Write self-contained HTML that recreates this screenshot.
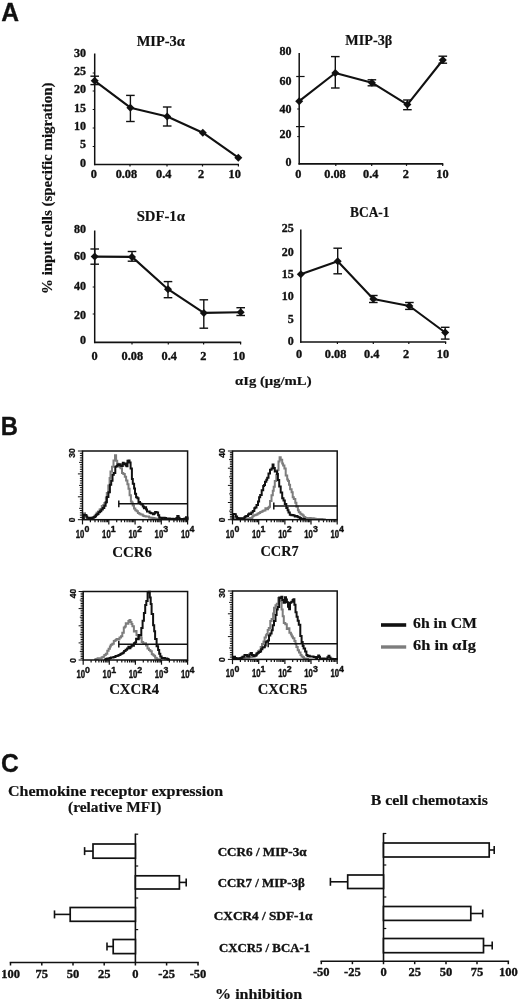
<!DOCTYPE html>
<html lang="en"><head><meta charset="utf-8"><title>Figure</title>
<style>
html,body{margin:0;padding:0;background:#fff}
body{width:520px;height:1001px;overflow:hidden}
svg{display:block}
</style></head><body>
<svg width="520" height="1001" viewBox="0 0 520 1001">
<rect width="520" height="1001" fill="#fff"/>
<text x="1.2" y="21.2" font-size="25.5" text-anchor="start" font-weight="bold" font-family='"Liberation Sans", "DejaVu Sans", sans-serif' fill="#111" textLength="17.8" lengthAdjust="spacingAndGlyphs" stroke="#111" stroke-width="0.3" stroke-linejoin="round" >A</text>
<text x="0.7" y="434.5" font-size="25" text-anchor="start" font-weight="bold" font-family='"Liberation Sans", "DejaVu Sans", sans-serif' fill="#111" textLength="17.2" lengthAdjust="spacingAndGlyphs" stroke="#111" stroke-width="0.3" stroke-linejoin="round" >B</text>
<text x="1.1" y="772.0" font-size="25" text-anchor="start" font-weight="bold" font-family='"Liberation Sans", "DejaVu Sans", sans-serif' fill="#111" textLength="17.8" lengthAdjust="spacingAndGlyphs" stroke="#111" stroke-width="0.3" stroke-linejoin="round" >C</text>
<line x1="94.7" y1="53.5" x2="94.7" y2="165.2" stroke="#111" stroke-width="1.5" stroke-linecap="butt"/>
<line x1="94.0" y1="164.5" x2="239.0" y2="164.5" stroke="#111" stroke-width="1.6" stroke-linecap="butt"/>
<text x="160.8" y="46.2" font-size="14" text-anchor="middle" font-weight="bold" font-family='"Liberation Serif", "DejaVu Serif", serif' fill="#111" textLength="48.3" lengthAdjust="spacingAndGlyphs" stroke="#111" stroke-width="0.18" stroke-linejoin="round" >MIP-3α</text>
<text x="85.9" y="56.6" font-size="12" text-anchor="end" font-weight="bold" font-family='"Liberation Serif", "DejaVu Serif", serif' fill="#111" stroke="#111" stroke-width="0.35" stroke-linejoin="round" >30</text>
<text x="85.9" y="74.8" font-size="12" text-anchor="end" font-weight="bold" font-family='"Liberation Serif", "DejaVu Serif", serif' fill="#111" stroke="#111" stroke-width="0.35" stroke-linejoin="round" >25</text>
<text x="85.9" y="93.1" font-size="12" text-anchor="end" font-weight="bold" font-family='"Liberation Serif", "DejaVu Serif", serif' fill="#111" stroke="#111" stroke-width="0.35" stroke-linejoin="round" >20</text>
<text x="85.9" y="111.5" font-size="12" text-anchor="end" font-weight="bold" font-family='"Liberation Serif", "DejaVu Serif", serif' fill="#111" stroke="#111" stroke-width="0.35" stroke-linejoin="round" >15</text>
<text x="85.9" y="129.8" font-size="12" text-anchor="end" font-weight="bold" font-family='"Liberation Serif", "DejaVu Serif", serif' fill="#111" stroke="#111" stroke-width="0.35" stroke-linejoin="round" >10</text>
<text x="85.9" y="148.0" font-size="12" text-anchor="end" font-weight="bold" font-family='"Liberation Serif", "DejaVu Serif", serif' fill="#111" stroke="#111" stroke-width="0.35" stroke-linejoin="round" >5</text>
<text x="85.9" y="166.7" font-size="12" text-anchor="end" font-weight="bold" font-family='"Liberation Serif", "DejaVu Serif", serif' fill="#111" stroke="#111" stroke-width="0.35" stroke-linejoin="round" >0</text>
<text x="93.8" y="178.0" font-size="12.3" text-anchor="middle" font-weight="bold" font-family='"Liberation Serif", "DejaVu Serif", serif' fill="#111" stroke="#111" stroke-width="0.35" stroke-linejoin="round" >0</text>
<text x="126.4" y="178.0" font-size="12.3" text-anchor="middle" font-weight="bold" font-family='"Liberation Serif", "DejaVu Serif", serif' fill="#111" stroke="#111" stroke-width="0.35" stroke-linejoin="round" >0.08</text>
<text x="163.7" y="178.0" font-size="12.3" text-anchor="middle" font-weight="bold" font-family='"Liberation Serif", "DejaVu Serif", serif' fill="#111" stroke="#111" stroke-width="0.35" stroke-linejoin="round" >0.4</text>
<text x="201.1" y="178.0" font-size="12.3" text-anchor="middle" font-weight="bold" font-family='"Liberation Serif", "DejaVu Serif", serif' fill="#111" stroke="#111" stroke-width="0.35" stroke-linejoin="round" >2</text>
<text x="234.7" y="178.0" font-size="12.3" text-anchor="middle" font-weight="bold" font-family='"Liberation Serif", "DejaVu Serif", serif' fill="#111" stroke="#111" stroke-width="0.35" stroke-linejoin="round" >10</text>
<line x1="130.0" y1="164.5" x2="130.0" y2="166.5" stroke="#111" stroke-width="1.2" stroke-linecap="butt"/>
<line x1="167.0" y1="164.5" x2="167.0" y2="166.5" stroke="#111" stroke-width="1.2" stroke-linecap="butt"/>
<line x1="202.5" y1="164.5" x2="202.5" y2="166.5" stroke="#111" stroke-width="1.2" stroke-linecap="butt"/>
<line x1="238.4" y1="164.5" x2="238.4" y2="166.5" stroke="#111" stroke-width="1.2" stroke-linecap="butt"/>
<line x1="92.7" y1="73.0" x2="94.7" y2="73.0" stroke="#111" stroke-width="1.0" stroke-linecap="butt"/>
<line x1="92.7" y1="91.0" x2="94.7" y2="91.0" stroke="#111" stroke-width="1.0" stroke-linecap="butt"/>
<line x1="92.7" y1="109.5" x2="94.7" y2="109.5" stroke="#111" stroke-width="1.0" stroke-linecap="butt"/>
<line x1="92.7" y1="128.0" x2="94.7" y2="128.0" stroke="#111" stroke-width="1.0" stroke-linecap="butt"/>
<line x1="92.7" y1="146.5" x2="94.7" y2="146.5" stroke="#111" stroke-width="1.0" stroke-linecap="butt"/>
<path d="M94.7 80.8L130.4 107.7L167.2 116.5L202.8 132.7L238.3 157.7" fill="none" stroke="#111" stroke-width="2.1" stroke-linejoin="round"/>
<line x1="94.7" y1="76.2" x2="94.7" y2="84.6" stroke="#111" stroke-width="1.4" stroke-linecap="butt"/>
<line x1="90.4" y1="76.2" x2="99.0" y2="76.2" stroke="#111" stroke-width="1.4" stroke-linecap="butt"/>
<line x1="90.4" y1="84.6" x2="99.0" y2="84.6" stroke="#111" stroke-width="1.4" stroke-linecap="butt"/>
<path d="M90.7 80.8L94.7 76.8L98.7 80.8L94.7 84.8Z" fill="#111"/>
<line x1="130.4" y1="95.4" x2="130.4" y2="121.5" stroke="#111" stroke-width="1.4" stroke-linecap="butt"/>
<line x1="126.1" y1="95.4" x2="134.7" y2="95.4" stroke="#111" stroke-width="1.4" stroke-linecap="butt"/>
<line x1="126.1" y1="121.5" x2="134.7" y2="121.5" stroke="#111" stroke-width="1.4" stroke-linecap="butt"/>
<path d="M126.4 107.7L130.4 103.7L134.4 107.7L130.4 111.7Z" fill="#111"/>
<line x1="167.2" y1="107.0" x2="167.2" y2="126.0" stroke="#111" stroke-width="1.4" stroke-linecap="butt"/>
<line x1="162.9" y1="107.0" x2="171.5" y2="107.0" stroke="#111" stroke-width="1.4" stroke-linecap="butt"/>
<line x1="162.9" y1="126.0" x2="171.5" y2="126.0" stroke="#111" stroke-width="1.4" stroke-linecap="butt"/>
<path d="M163.2 116.5L167.2 112.5L171.2 116.5L167.2 120.5Z" fill="#111"/>
<path d="M198.8 132.7L202.8 128.7L206.8 132.7L202.8 136.7Z" fill="#111"/>
<path d="M234.3 157.7L238.3 153.7L242.3 157.7L238.3 161.7Z" fill="#111"/>
<line x1="299.2" y1="53.0" x2="299.2" y2="164.6" stroke="#111" stroke-width="1.5" stroke-linecap="butt"/>
<line x1="298.5" y1="163.9" x2="443.3" y2="163.9" stroke="#111" stroke-width="1.6" stroke-linecap="butt"/>
<text x="368.8" y="45.4" font-size="14" text-anchor="middle" font-weight="bold" font-family='"Liberation Serif", "DejaVu Serif", serif' fill="#111" textLength="47.0" lengthAdjust="spacingAndGlyphs" stroke="#111" stroke-width="0.18" stroke-linejoin="round" >MIP-3β</text>
<text x="291.5" y="54.6" font-size="12" text-anchor="end" font-weight="bold" font-family='"Liberation Serif", "DejaVu Serif", serif' fill="#111" stroke="#111" stroke-width="0.35" stroke-linejoin="round" >80</text>
<text x="291.5" y="84.6" font-size="12" text-anchor="end" font-weight="bold" font-family='"Liberation Serif", "DejaVu Serif", serif' fill="#111" stroke="#111" stroke-width="0.35" stroke-linejoin="round" >60</text>
<text x="291.5" y="112.6" font-size="12" text-anchor="end" font-weight="bold" font-family='"Liberation Serif", "DejaVu Serif", serif' fill="#111" stroke="#111" stroke-width="0.35" stroke-linejoin="round" >40</text>
<text x="291.5" y="138.0" font-size="12" text-anchor="end" font-weight="bold" font-family='"Liberation Serif", "DejaVu Serif", serif' fill="#111" stroke="#111" stroke-width="0.35" stroke-linejoin="round" >20</text>
<text x="291.5" y="166.2" font-size="12" text-anchor="end" font-weight="bold" font-family='"Liberation Serif", "DejaVu Serif", serif' fill="#111" stroke="#111" stroke-width="0.35" stroke-linejoin="round" >0</text>
<text x="298.3" y="177.6" font-size="12.3" text-anchor="middle" font-weight="bold" font-family='"Liberation Serif", "DejaVu Serif", serif' fill="#111" stroke="#111" stroke-width="0.35" stroke-linejoin="round" >0</text>
<text x="335.0" y="177.6" font-size="12.3" text-anchor="middle" font-weight="bold" font-family='"Liberation Serif", "DejaVu Serif", serif' fill="#111" stroke="#111" stroke-width="0.35" stroke-linejoin="round" >0.08</text>
<text x="370.7" y="177.6" font-size="12.3" text-anchor="middle" font-weight="bold" font-family='"Liberation Serif", "DejaVu Serif", serif' fill="#111" stroke="#111" stroke-width="0.35" stroke-linejoin="round" >0.4</text>
<text x="405.8" y="177.6" font-size="12.3" text-anchor="middle" font-weight="bold" font-family='"Liberation Serif", "DejaVu Serif", serif' fill="#111" stroke="#111" stroke-width="0.35" stroke-linejoin="round" >2</text>
<text x="442.5" y="177.6" font-size="12.3" text-anchor="middle" font-weight="bold" font-family='"Liberation Serif", "DejaVu Serif", serif' fill="#111" stroke="#111" stroke-width="0.35" stroke-linejoin="round" >10</text>
<line x1="335.8" y1="163.9" x2="335.8" y2="165.9" stroke="#111" stroke-width="1.2" stroke-linecap="butt"/>
<line x1="371.7" y1="163.9" x2="371.7" y2="165.9" stroke="#111" stroke-width="1.2" stroke-linecap="butt"/>
<line x1="406.5" y1="163.9" x2="406.5" y2="165.9" stroke="#111" stroke-width="1.2" stroke-linecap="butt"/>
<line x1="442.7" y1="163.9" x2="442.7" y2="165.9" stroke="#111" stroke-width="1.2" stroke-linecap="butt"/>
<line x1="296.2" y1="76.5" x2="304.6" y2="76.5" stroke="#111" stroke-width="1.2" stroke-linecap="butt"/>
<line x1="296.0" y1="126.6" x2="304.6" y2="126.6" stroke="#111" stroke-width="1.2" stroke-linecap="butt"/>
<line x1="297.2" y1="109.0" x2="299.2" y2="109.0" stroke="#111" stroke-width="1.0" stroke-linecap="butt"/>
<line x1="297.2" y1="136.6" x2="299.2" y2="136.6" stroke="#111" stroke-width="1.0" stroke-linecap="butt"/>
<path d="M299.2 101.2L335.3 73.0L371.9 82.7L407.4 104.6L442.8 60.0" fill="none" stroke="#111" stroke-width="2.1" stroke-linejoin="round"/>
<path d="M295.2 101.2L299.2 97.2L303.2 101.2L299.2 105.2Z" fill="#111"/>
<line x1="335.3" y1="56.6" x2="335.3" y2="88.0" stroke="#111" stroke-width="1.4" stroke-linecap="butt"/>
<line x1="331.0" y1="56.6" x2="339.6" y2="56.6" stroke="#111" stroke-width="1.4" stroke-linecap="butt"/>
<line x1="331.0" y1="88.0" x2="339.6" y2="88.0" stroke="#111" stroke-width="1.4" stroke-linecap="butt"/>
<path d="M331.3 73.0L335.3 69.0L339.3 73.0L335.3 77.0Z" fill="#111"/>
<line x1="371.9" y1="79.8" x2="371.9" y2="85.8" stroke="#111" stroke-width="1.4" stroke-linecap="butt"/>
<line x1="367.6" y1="79.8" x2="376.2" y2="79.8" stroke="#111" stroke-width="1.4" stroke-linecap="butt"/>
<line x1="367.6" y1="85.8" x2="376.2" y2="85.8" stroke="#111" stroke-width="1.4" stroke-linecap="butt"/>
<path d="M367.9 82.7L371.9 78.7L375.9 82.7L371.9 86.7Z" fill="#111"/>
<line x1="407.4" y1="100.0" x2="407.4" y2="109.7" stroke="#111" stroke-width="1.4" stroke-linecap="butt"/>
<line x1="403.1" y1="100.0" x2="411.7" y2="100.0" stroke="#111" stroke-width="1.4" stroke-linecap="butt"/>
<line x1="403.1" y1="109.7" x2="411.7" y2="109.7" stroke="#111" stroke-width="1.4" stroke-linecap="butt"/>
<path d="M403.4 104.6L407.4 100.6L411.4 104.6L407.4 108.6Z" fill="#111"/>
<line x1="442.8" y1="56.2" x2="442.8" y2="63.2" stroke="#111" stroke-width="1.4" stroke-linecap="butt"/>
<line x1="438.5" y1="56.2" x2="447.1" y2="56.2" stroke="#111" stroke-width="1.4" stroke-linecap="butt"/>
<line x1="438.5" y1="63.2" x2="447.1" y2="63.2" stroke="#111" stroke-width="1.4" stroke-linecap="butt"/>
<path d="M438.8 60.0L442.8 56.0L446.8 60.0L442.8 64.0Z" fill="#111"/>
<line x1="94.7" y1="230.5" x2="94.7" y2="343.1" stroke="#111" stroke-width="1.5" stroke-linecap="butt"/>
<line x1="94.0" y1="342.4" x2="241.2" y2="342.4" stroke="#111" stroke-width="1.6" stroke-linecap="butt"/>
<text x="160.8" y="220.7" font-size="14" text-anchor="middle" font-weight="bold" font-family='"Liberation Serif", "DejaVu Serif", serif' fill="#111" textLength="48.3" lengthAdjust="spacingAndGlyphs" stroke="#111" stroke-width="0.18" stroke-linejoin="round" >SDF-1α</text>
<text x="85.9" y="232.8" font-size="12" text-anchor="end" font-weight="bold" font-family='"Liberation Serif", "DejaVu Serif", serif' fill="#111" stroke="#111" stroke-width="0.35" stroke-linejoin="round" >80</text>
<text x="85.9" y="260.3" font-size="12" text-anchor="end" font-weight="bold" font-family='"Liberation Serif", "DejaVu Serif", serif' fill="#111" stroke="#111" stroke-width="0.35" stroke-linejoin="round" >60</text>
<text x="85.9" y="290.0" font-size="12" text-anchor="end" font-weight="bold" font-family='"Liberation Serif", "DejaVu Serif", serif' fill="#111" stroke="#111" stroke-width="0.35" stroke-linejoin="round" >40</text>
<text x="85.9" y="318.5" font-size="12" text-anchor="end" font-weight="bold" font-family='"Liberation Serif", "DejaVu Serif", serif' fill="#111" stroke="#111" stroke-width="0.35" stroke-linejoin="round" >20</text>
<text x="85.9" y="343.5" font-size="12" text-anchor="end" font-weight="bold" font-family='"Liberation Serif", "DejaVu Serif", serif' fill="#111" stroke="#111" stroke-width="0.35" stroke-linejoin="round" >0</text>
<text x="94.7" y="360.0" font-size="12.3" text-anchor="middle" font-weight="bold" font-family='"Liberation Serif", "DejaVu Serif", serif' fill="#111" stroke="#111" stroke-width="0.35" stroke-linejoin="round" >0</text>
<text x="132.3" y="360.0" font-size="12.3" text-anchor="middle" font-weight="bold" font-family='"Liberation Serif", "DejaVu Serif", serif' fill="#111" stroke="#111" stroke-width="0.35" stroke-linejoin="round" >0.08</text>
<text x="169.2" y="360.0" font-size="12.3" text-anchor="middle" font-weight="bold" font-family='"Liberation Serif", "DejaVu Serif", serif' fill="#111" stroke="#111" stroke-width="0.35" stroke-linejoin="round" >0.4</text>
<text x="203.4" y="360.0" font-size="12.3" text-anchor="middle" font-weight="bold" font-family='"Liberation Serif", "DejaVu Serif", serif' fill="#111" stroke="#111" stroke-width="0.35" stroke-linejoin="round" >2</text>
<text x="238.9" y="360.0" font-size="12.3" text-anchor="middle" font-weight="bold" font-family='"Liberation Serif", "DejaVu Serif", serif' fill="#111" stroke="#111" stroke-width="0.35" stroke-linejoin="round" >10</text>
<line x1="132.0" y1="342.4" x2="132.0" y2="344.4" stroke="#111" stroke-width="1.2" stroke-linecap="butt"/>
<line x1="168.3" y1="342.4" x2="168.3" y2="344.4" stroke="#111" stroke-width="1.2" stroke-linecap="butt"/>
<line x1="203.6" y1="342.4" x2="203.6" y2="344.4" stroke="#111" stroke-width="1.2" stroke-linecap="butt"/>
<line x1="240.6" y1="342.4" x2="240.6" y2="344.4" stroke="#111" stroke-width="1.2" stroke-linecap="butt"/>
<line x1="92.7" y1="287.0" x2="94.7" y2="287.0" stroke="#111" stroke-width="1.0" stroke-linecap="butt"/>
<line x1="92.7" y1="314.0" x2="94.7" y2="314.0" stroke="#111" stroke-width="1.0" stroke-linecap="butt"/>
<path d="M94.7 256.6L132.0 256.9L168.0 289.2L203.8 312.9L240.7 312.3" fill="none" stroke="#111" stroke-width="2.1" stroke-linejoin="round"/>
<line x1="94.7" y1="249.0" x2="94.7" y2="264.2" stroke="#111" stroke-width="1.4" stroke-linecap="butt"/>
<line x1="90.4" y1="249.0" x2="99.0" y2="249.0" stroke="#111" stroke-width="1.4" stroke-linecap="butt"/>
<line x1="90.4" y1="264.2" x2="99.0" y2="264.2" stroke="#111" stroke-width="1.4" stroke-linecap="butt"/>
<path d="M90.7 256.6L94.7 252.6L98.7 256.6L94.7 260.6Z" fill="#111"/>
<line x1="132.0" y1="251.5" x2="132.0" y2="261.2" stroke="#111" stroke-width="1.4" stroke-linecap="butt"/>
<line x1="127.7" y1="251.5" x2="136.3" y2="251.5" stroke="#111" stroke-width="1.4" stroke-linecap="butt"/>
<line x1="127.7" y1="261.2" x2="136.3" y2="261.2" stroke="#111" stroke-width="1.4" stroke-linecap="butt"/>
<path d="M128.0 256.9L132.0 252.9L136.0 256.9L132.0 260.9Z" fill="#111"/>
<line x1="168.0" y1="281.6" x2="168.0" y2="297.7" stroke="#111" stroke-width="1.4" stroke-linecap="butt"/>
<line x1="163.7" y1="281.6" x2="172.3" y2="281.6" stroke="#111" stroke-width="1.4" stroke-linecap="butt"/>
<line x1="163.7" y1="297.7" x2="172.3" y2="297.7" stroke="#111" stroke-width="1.4" stroke-linecap="butt"/>
<path d="M164.0 289.2L168.0 285.2L172.0 289.2L168.0 293.2Z" fill="#111"/>
<line x1="203.8" y1="299.8" x2="203.8" y2="328.2" stroke="#111" stroke-width="1.4" stroke-linecap="butt"/>
<line x1="199.5" y1="299.8" x2="208.1" y2="299.8" stroke="#111" stroke-width="1.4" stroke-linecap="butt"/>
<line x1="199.5" y1="328.2" x2="208.1" y2="328.2" stroke="#111" stroke-width="1.4" stroke-linecap="butt"/>
<path d="M199.8 312.9L203.8 308.9L207.8 312.9L203.8 316.9Z" fill="#111"/>
<line x1="240.7" y1="307.7" x2="240.7" y2="315.5" stroke="#111" stroke-width="1.4" stroke-linecap="butt"/>
<line x1="236.4" y1="307.7" x2="245.0" y2="307.7" stroke="#111" stroke-width="1.4" stroke-linecap="butt"/>
<line x1="236.4" y1="315.5" x2="245.0" y2="315.5" stroke="#111" stroke-width="1.4" stroke-linecap="butt"/>
<path d="M236.7 312.3L240.7 308.3L244.7 312.3L240.7 316.3Z" fill="#111"/>
<line x1="300.8" y1="229.5" x2="300.8" y2="342.7" stroke="#111" stroke-width="1.5" stroke-linecap="butt"/>
<line x1="300.1" y1="342.0" x2="446.2" y2="342.0" stroke="#111" stroke-width="1.6" stroke-linecap="butt"/>
<text x="369.8" y="217.3" font-size="14" text-anchor="middle" font-weight="bold" font-family='"Liberation Serif", "DejaVu Serif", serif' fill="#111" textLength="39.5" lengthAdjust="spacingAndGlyphs" stroke="#111" stroke-width="0.18" stroke-linejoin="round" >BCA-1</text>
<text x="293.8" y="231.5" font-size="12" text-anchor="end" font-weight="bold" font-family='"Liberation Serif", "DejaVu Serif", serif' fill="#111" stroke="#111" stroke-width="0.35" stroke-linejoin="round" >25</text>
<text x="293.8" y="255.7" font-size="12" text-anchor="end" font-weight="bold" font-family='"Liberation Serif", "DejaVu Serif", serif' fill="#111" stroke="#111" stroke-width="0.35" stroke-linejoin="round" >20</text>
<text x="293.8" y="278.0" font-size="12" text-anchor="end" font-weight="bold" font-family='"Liberation Serif", "DejaVu Serif", serif' fill="#111" stroke="#111" stroke-width="0.35" stroke-linejoin="round" >15</text>
<text x="293.8" y="300.3" font-size="12" text-anchor="end" font-weight="bold" font-family='"Liberation Serif", "DejaVu Serif", serif' fill="#111" stroke="#111" stroke-width="0.35" stroke-linejoin="round" >10</text>
<text x="293.8" y="322.6" font-size="12" text-anchor="end" font-weight="bold" font-family='"Liberation Serif", "DejaVu Serif", serif' fill="#111" stroke="#111" stroke-width="0.35" stroke-linejoin="round" >5</text>
<text x="293.8" y="345.4" font-size="12" text-anchor="end" font-weight="bold" font-family='"Liberation Serif", "DejaVu Serif", serif' fill="#111" stroke="#111" stroke-width="0.35" stroke-linejoin="round" >0</text>
<text x="299.2" y="357.5" font-size="12.3" text-anchor="middle" font-weight="bold" font-family='"Liberation Serif", "DejaVu Serif", serif' fill="#111" stroke="#111" stroke-width="0.35" stroke-linejoin="round" >0</text>
<text x="335.6" y="357.5" font-size="12.3" text-anchor="middle" font-weight="bold" font-family='"Liberation Serif", "DejaVu Serif", serif' fill="#111" stroke="#111" stroke-width="0.35" stroke-linejoin="round" >0.08</text>
<text x="371.7" y="357.5" font-size="12.3" text-anchor="middle" font-weight="bold" font-family='"Liberation Serif", "DejaVu Serif", serif' fill="#111" stroke="#111" stroke-width="0.35" stroke-linejoin="round" >0.4</text>
<text x="406.2" y="357.5" font-size="12.3" text-anchor="middle" font-weight="bold" font-family='"Liberation Serif", "DejaVu Serif", serif' fill="#111" stroke="#111" stroke-width="0.35" stroke-linejoin="round" >2</text>
<text x="442.9" y="357.5" font-size="12.3" text-anchor="middle" font-weight="bold" font-family='"Liberation Serif", "DejaVu Serif", serif' fill="#111" stroke="#111" stroke-width="0.35" stroke-linejoin="round" >10</text>
<line x1="337.4" y1="342.0" x2="337.4" y2="344.0" stroke="#111" stroke-width="1.2" stroke-linecap="butt"/>
<line x1="373.3" y1="342.0" x2="373.3" y2="344.0" stroke="#111" stroke-width="1.2" stroke-linecap="butt"/>
<line x1="408.8" y1="342.0" x2="408.8" y2="344.0" stroke="#111" stroke-width="1.2" stroke-linecap="butt"/>
<line x1="445.6" y1="342.0" x2="445.6" y2="344.0" stroke="#111" stroke-width="1.2" stroke-linecap="butt"/>
<path d="M300.8 274.2L337.7 261.2L373.3 299.0L409.4 306.0L445.2 332.5" fill="none" stroke="#111" stroke-width="2.1" stroke-linejoin="round"/>
<path d="M296.8 274.2L300.8 270.2L304.8 274.2L300.8 278.2Z" fill="#111"/>
<line x1="337.7" y1="248.2" x2="337.7" y2="273.8" stroke="#111" stroke-width="1.4" stroke-linecap="butt"/>
<line x1="333.4" y1="248.2" x2="342.0" y2="248.2" stroke="#111" stroke-width="1.4" stroke-linecap="butt"/>
<line x1="333.4" y1="273.8" x2="342.0" y2="273.8" stroke="#111" stroke-width="1.4" stroke-linecap="butt"/>
<path d="M333.7 261.2L337.7 257.2L341.7 261.2L337.7 265.2Z" fill="#111"/>
<line x1="373.3" y1="295.5" x2="373.3" y2="302.5" stroke="#111" stroke-width="1.4" stroke-linecap="butt"/>
<line x1="369.0" y1="295.5" x2="377.6" y2="295.5" stroke="#111" stroke-width="1.4" stroke-linecap="butt"/>
<line x1="369.0" y1="302.5" x2="377.6" y2="302.5" stroke="#111" stroke-width="1.4" stroke-linecap="butt"/>
<path d="M369.3 299.0L373.3 295.0L377.3 299.0L373.3 303.0Z" fill="#111"/>
<line x1="409.4" y1="302.5" x2="409.4" y2="309.4" stroke="#111" stroke-width="1.4" stroke-linecap="butt"/>
<line x1="405.1" y1="302.5" x2="413.7" y2="302.5" stroke="#111" stroke-width="1.4" stroke-linecap="butt"/>
<line x1="405.1" y1="309.4" x2="413.7" y2="309.4" stroke="#111" stroke-width="1.4" stroke-linecap="butt"/>
<path d="M405.4 306.0L409.4 302.0L413.4 306.0L409.4 310.0Z" fill="#111"/>
<line x1="445.2" y1="327.3" x2="445.2" y2="339.1" stroke="#111" stroke-width="1.4" stroke-linecap="butt"/>
<line x1="440.9" y1="327.3" x2="449.5" y2="327.3" stroke="#111" stroke-width="1.4" stroke-linecap="butt"/>
<line x1="440.9" y1="339.1" x2="449.5" y2="339.1" stroke="#111" stroke-width="1.4" stroke-linecap="butt"/>
<path d="M441.2 332.5L445.2 328.5L449.2 332.5L445.2 336.5Z" fill="#111"/>
<text x="51.8" y="188.3" font-size="13.8" text-anchor="middle" font-weight="bold" font-family='"Liberation Serif", "DejaVu Serif", serif' fill="#111" textLength="211.5" lengthAdjust="spacingAndGlyphs" transform="rotate(-90 51.8 188.3)" stroke="#111" stroke-width="0.18" stroke-linejoin="round" >% input cells (specific migration)</text>
<text x="273.3" y="384.8" font-size="13" text-anchor="middle" font-weight="bold" font-family='"Liberation Serif", "DejaVu Serif", serif' fill="#111" textLength="76.5" lengthAdjust="spacingAndGlyphs" stroke="#111" stroke-width="0.18" stroke-linejoin="round" >αIg (μg/mL)</text>
<line x1="82.5" y1="519.7" x2="82.5" y2="524.4" stroke="#111" stroke-width="1.2" stroke-linecap="butt"/>
<line x1="90.4" y1="519.7" x2="90.4" y2="522.3" stroke="#111" stroke-width="1.2" stroke-linecap="butt"/>
<line x1="95.0" y1="519.7" x2="95.0" y2="522.3" stroke="#111" stroke-width="1.2" stroke-linecap="butt"/>
<line x1="98.3" y1="519.7" x2="98.3" y2="522.3" stroke="#111" stroke-width="1.2" stroke-linecap="butt"/>
<line x1="100.9" y1="519.7" x2="100.9" y2="522.3" stroke="#111" stroke-width="1.2" stroke-linecap="butt"/>
<line x1="102.9" y1="519.7" x2="102.9" y2="522.3" stroke="#111" stroke-width="1.2" stroke-linecap="butt"/>
<line x1="104.7" y1="519.7" x2="104.7" y2="522.3" stroke="#111" stroke-width="1.2" stroke-linecap="butt"/>
<line x1="106.2" y1="519.7" x2="106.2" y2="522.3" stroke="#111" stroke-width="1.2" stroke-linecap="butt"/>
<line x1="107.6" y1="519.7" x2="107.6" y2="522.3" stroke="#111" stroke-width="1.2" stroke-linecap="butt"/>
<line x1="108.8" y1="519.7" x2="108.8" y2="524.4" stroke="#111" stroke-width="1.2" stroke-linecap="butt"/>
<line x1="116.7" y1="519.7" x2="116.7" y2="522.3" stroke="#111" stroke-width="1.2" stroke-linecap="butt"/>
<line x1="121.3" y1="519.7" x2="121.3" y2="522.3" stroke="#111" stroke-width="1.2" stroke-linecap="butt"/>
<line x1="124.6" y1="519.7" x2="124.6" y2="522.3" stroke="#111" stroke-width="1.2" stroke-linecap="butt"/>
<line x1="127.1" y1="519.7" x2="127.1" y2="522.3" stroke="#111" stroke-width="1.2" stroke-linecap="butt"/>
<line x1="129.2" y1="519.7" x2="129.2" y2="522.3" stroke="#111" stroke-width="1.2" stroke-linecap="butt"/>
<line x1="131.0" y1="519.7" x2="131.0" y2="522.3" stroke="#111" stroke-width="1.2" stroke-linecap="butt"/>
<line x1="132.5" y1="519.7" x2="132.5" y2="522.3" stroke="#111" stroke-width="1.2" stroke-linecap="butt"/>
<line x1="133.8" y1="519.7" x2="133.8" y2="522.3" stroke="#111" stroke-width="1.2" stroke-linecap="butt"/>
<line x1="135.1" y1="519.7" x2="135.1" y2="524.4" stroke="#111" stroke-width="1.2" stroke-linecap="butt"/>
<line x1="143.0" y1="519.7" x2="143.0" y2="522.3" stroke="#111" stroke-width="1.2" stroke-linecap="butt"/>
<line x1="147.6" y1="519.7" x2="147.6" y2="522.3" stroke="#111" stroke-width="1.2" stroke-linecap="butt"/>
<line x1="150.9" y1="519.7" x2="150.9" y2="522.3" stroke="#111" stroke-width="1.2" stroke-linecap="butt"/>
<line x1="153.4" y1="519.7" x2="153.4" y2="522.3" stroke="#111" stroke-width="1.2" stroke-linecap="butt"/>
<line x1="155.5" y1="519.7" x2="155.5" y2="522.3" stroke="#111" stroke-width="1.2" stroke-linecap="butt"/>
<line x1="157.3" y1="519.7" x2="157.3" y2="522.3" stroke="#111" stroke-width="1.2" stroke-linecap="butt"/>
<line x1="158.8" y1="519.7" x2="158.8" y2="522.3" stroke="#111" stroke-width="1.2" stroke-linecap="butt"/>
<line x1="160.1" y1="519.7" x2="160.1" y2="522.3" stroke="#111" stroke-width="1.2" stroke-linecap="butt"/>
<line x1="161.3" y1="519.7" x2="161.3" y2="524.4" stroke="#111" stroke-width="1.2" stroke-linecap="butt"/>
<line x1="169.2" y1="519.7" x2="169.2" y2="522.3" stroke="#111" stroke-width="1.2" stroke-linecap="butt"/>
<line x1="173.9" y1="519.7" x2="173.9" y2="522.3" stroke="#111" stroke-width="1.2" stroke-linecap="butt"/>
<line x1="177.1" y1="519.7" x2="177.1" y2="522.3" stroke="#111" stroke-width="1.2" stroke-linecap="butt"/>
<line x1="179.7" y1="519.7" x2="179.7" y2="522.3" stroke="#111" stroke-width="1.2" stroke-linecap="butt"/>
<line x1="181.8" y1="519.7" x2="181.8" y2="522.3" stroke="#111" stroke-width="1.2" stroke-linecap="butt"/>
<line x1="183.5" y1="519.7" x2="183.5" y2="522.3" stroke="#111" stroke-width="1.2" stroke-linecap="butt"/>
<line x1="185.1" y1="519.7" x2="185.1" y2="522.3" stroke="#111" stroke-width="1.2" stroke-linecap="butt"/>
<line x1="186.4" y1="519.7" x2="186.4" y2="522.3" stroke="#111" stroke-width="1.2" stroke-linecap="butt"/>
<line x1="187.6" y1="519.7" x2="187.6" y2="524.4" stroke="#111" stroke-width="1.2" stroke-linecap="butt"/>
<line x1="77.9" y1="519.7" x2="82.5" y2="519.7" stroke="#111" stroke-width="1.0" stroke-linecap="butt"/>
<line x1="79.9" y1="517.4" x2="82.5" y2="517.4" stroke="#111" stroke-width="1.0" stroke-linecap="butt"/>
<line x1="79.9" y1="515.1" x2="82.5" y2="515.1" stroke="#111" stroke-width="1.0" stroke-linecap="butt"/>
<line x1="79.9" y1="512.8" x2="82.5" y2="512.8" stroke="#111" stroke-width="1.0" stroke-linecap="butt"/>
<line x1="79.9" y1="510.5" x2="82.5" y2="510.5" stroke="#111" stroke-width="1.0" stroke-linecap="butt"/>
<line x1="79.1" y1="508.3" x2="82.5" y2="508.3" stroke="#111" stroke-width="1.0" stroke-linecap="butt"/>
<line x1="79.9" y1="506.0" x2="82.5" y2="506.0" stroke="#111" stroke-width="1.0" stroke-linecap="butt"/>
<line x1="79.9" y1="503.7" x2="82.5" y2="503.7" stroke="#111" stroke-width="1.0" stroke-linecap="butt"/>
<line x1="79.9" y1="501.4" x2="82.5" y2="501.4" stroke="#111" stroke-width="1.0" stroke-linecap="butt"/>
<line x1="79.9" y1="499.1" x2="82.5" y2="499.1" stroke="#111" stroke-width="1.0" stroke-linecap="butt"/>
<line x1="77.9" y1="496.8" x2="82.5" y2="496.8" stroke="#111" stroke-width="1.0" stroke-linecap="butt"/>
<line x1="79.9" y1="494.5" x2="82.5" y2="494.5" stroke="#111" stroke-width="1.0" stroke-linecap="butt"/>
<line x1="79.9" y1="492.2" x2="82.5" y2="492.2" stroke="#111" stroke-width="1.0" stroke-linecap="butt"/>
<line x1="79.9" y1="489.9" x2="82.5" y2="489.9" stroke="#111" stroke-width="1.0" stroke-linecap="butt"/>
<line x1="79.9" y1="487.6" x2="82.5" y2="487.6" stroke="#111" stroke-width="1.0" stroke-linecap="butt"/>
<line x1="79.1" y1="485.4" x2="82.5" y2="485.4" stroke="#111" stroke-width="1.0" stroke-linecap="butt"/>
<line x1="79.9" y1="483.1" x2="82.5" y2="483.1" stroke="#111" stroke-width="1.0" stroke-linecap="butt"/>
<line x1="79.9" y1="480.8" x2="82.5" y2="480.8" stroke="#111" stroke-width="1.0" stroke-linecap="butt"/>
<line x1="79.9" y1="478.5" x2="82.5" y2="478.5" stroke="#111" stroke-width="1.0" stroke-linecap="butt"/>
<line x1="79.9" y1="476.2" x2="82.5" y2="476.2" stroke="#111" stroke-width="1.0" stroke-linecap="butt"/>
<line x1="77.9" y1="473.9" x2="82.5" y2="473.9" stroke="#111" stroke-width="1.0" stroke-linecap="butt"/>
<line x1="79.9" y1="471.6" x2="82.5" y2="471.6" stroke="#111" stroke-width="1.0" stroke-linecap="butt"/>
<line x1="79.9" y1="469.3" x2="82.5" y2="469.3" stroke="#111" stroke-width="1.0" stroke-linecap="butt"/>
<line x1="79.9" y1="467.0" x2="82.5" y2="467.0" stroke="#111" stroke-width="1.0" stroke-linecap="butt"/>
<line x1="79.9" y1="464.7" x2="82.5" y2="464.7" stroke="#111" stroke-width="1.0" stroke-linecap="butt"/>
<line x1="79.1" y1="462.4" x2="82.5" y2="462.4" stroke="#111" stroke-width="1.0" stroke-linecap="butt"/>
<line x1="79.9" y1="460.2" x2="82.5" y2="460.2" stroke="#111" stroke-width="1.0" stroke-linecap="butt"/>
<line x1="79.9" y1="457.9" x2="82.5" y2="457.9" stroke="#111" stroke-width="1.0" stroke-linecap="butt"/>
<line x1="79.9" y1="455.6" x2="82.5" y2="455.6" stroke="#111" stroke-width="1.0" stroke-linecap="butt"/>
<line x1="79.9" y1="453.3" x2="82.5" y2="453.3" stroke="#111" stroke-width="1.0" stroke-linecap="butt"/>
<line x1="77.9" y1="451.0" x2="82.5" y2="451.0" stroke="#111" stroke-width="1.0" stroke-linecap="butt"/>
<text x="75.8" y="537.7" font-size="11" text-anchor="start" font-weight="bold" font-family='"Liberation Sans", "DejaVu Sans", sans-serif' fill="#111" textLength="8.6" lengthAdjust="spacingAndGlyphs" stroke="#111" stroke-width="0.45" stroke-linejoin="round" >10</text>
<text x="84.4" y="532.4" font-size="9.3" text-anchor="start" font-weight="bold" font-family='"Liberation Sans", "DejaVu Sans", sans-serif' fill="#111" textLength="4.9" lengthAdjust="spacingAndGlyphs" stroke="#111" stroke-width="0.4" stroke-linejoin="round" >0</text>
<text x="102.1" y="537.7" font-size="11" text-anchor="start" font-weight="bold" font-family='"Liberation Sans", "DejaVu Sans", sans-serif' fill="#111" textLength="8.6" lengthAdjust="spacingAndGlyphs" stroke="#111" stroke-width="0.45" stroke-linejoin="round" >10</text>
<text x="110.7" y="532.4" font-size="9.3" text-anchor="start" font-weight="bold" font-family='"Liberation Sans", "DejaVu Sans", sans-serif' fill="#111" textLength="4.9" lengthAdjust="spacingAndGlyphs" stroke="#111" stroke-width="0.4" stroke-linejoin="round" >1</text>
<text x="128.4" y="537.7" font-size="11" text-anchor="start" font-weight="bold" font-family='"Liberation Sans", "DejaVu Sans", sans-serif' fill="#111" textLength="8.6" lengthAdjust="spacingAndGlyphs" stroke="#111" stroke-width="0.45" stroke-linejoin="round" >10</text>
<text x="137.0" y="532.4" font-size="9.3" text-anchor="start" font-weight="bold" font-family='"Liberation Sans", "DejaVu Sans", sans-serif' fill="#111" textLength="4.9" lengthAdjust="spacingAndGlyphs" stroke="#111" stroke-width="0.4" stroke-linejoin="round" >2</text>
<text x="154.6" y="537.7" font-size="11" text-anchor="start" font-weight="bold" font-family='"Liberation Sans", "DejaVu Sans", sans-serif' fill="#111" textLength="8.6" lengthAdjust="spacingAndGlyphs" stroke="#111" stroke-width="0.45" stroke-linejoin="round" >10</text>
<text x="163.2" y="532.4" font-size="9.3" text-anchor="start" font-weight="bold" font-family='"Liberation Sans", "DejaVu Sans", sans-serif' fill="#111" textLength="4.9" lengthAdjust="spacingAndGlyphs" stroke="#111" stroke-width="0.4" stroke-linejoin="round" >3</text>
<text x="180.9" y="537.7" font-size="11" text-anchor="start" font-weight="bold" font-family='"Liberation Sans", "DejaVu Sans", sans-serif' fill="#111" textLength="8.6" lengthAdjust="spacingAndGlyphs" stroke="#111" stroke-width="0.45" stroke-linejoin="round" >10</text>
<text x="189.5" y="532.4" font-size="9.3" text-anchor="start" font-weight="bold" font-family='"Liberation Sans", "DejaVu Sans", sans-serif' fill="#111" textLength="4.9" lengthAdjust="spacingAndGlyphs" stroke="#111" stroke-width="0.4" stroke-linejoin="round" >4</text>
<text x="74.9" y="520.0" font-size="8.5" text-anchor="middle" font-weight="bold" font-family='"Liberation Sans", "DejaVu Sans", sans-serif' fill="#111" transform="rotate(-90 74.9 520.0)" stroke="#111" stroke-width="0.3" stroke-linejoin="round" >0</text>
<text x="74.9" y="453.0" font-size="8.5" text-anchor="middle" font-weight="bold" font-family='"Liberation Sans", "DejaVu Sans", sans-serif' fill="#111" transform="rotate(-90 74.9 453.0)" stroke="#111" stroke-width="0.3" stroke-linejoin="round" >30</text>
<path d="M83.0 519.7L83.0 514.8L84.1 514.8L84.1 513.2L85.0 513.2L85.0 515.6L86.5 515.6L86.5 517.8L87.6 517.8L87.6 518.4L89.1 518.4L89.1 518.6L90.0 518.6L90.0 518.7L91.1 518.7L91.1 518.8L92.4 518.8L92.4 518.5L93.3 518.5L93.3 517.3L94.4 517.3L94.4 515.7L95.5 515.7L95.5 514.8L96.6 514.8L96.6 512.7L98.1 512.7L98.1 511.4L99.6 511.4L99.6 509.5L100.5 509.5L100.5 509.2L101.8 509.2L101.8 506.0L103.3 506.0L103.3 505.1L104.4 505.1L104.4 502.9L105.9 502.9L105.9 497.6L106.8 497.6L106.8 493.0L108.3 493.0L108.3 485.6L109.6 485.6L109.6 477.9L110.5 477.9L110.5 471.4L112.0 471.4L112.0 466.7L113.5 466.7L113.5 460.5L115.0 460.5L115.0 455.3L116.1 455.3L116.1 460.8L117.2 460.8L117.2 463.8L118.5 463.8L118.5 464.9L119.4 464.9L119.4 467.0L120.5 467.0L120.5 468.3L122.0 468.3L122.0 473.0L123.3 473.0L123.3 473.9L124.8 473.9L124.8 476.8L126.1 476.8L126.1 480.5L127.4 480.5L127.4 484.3L128.5 484.3L128.5 488.8L129.6 488.8L129.6 495.2L130.9 495.2L130.9 501.5L131.8 501.5L131.8 502.4L132.7 502.4L132.7 505.4L134.0 505.4L134.0 508.5L135.3 508.5L135.3 510.3L136.6 510.3L136.6 511.3L137.9 511.3L137.9 512.9L139.2 512.9L139.2 513.8L140.5 513.8L140.5 514.6L141.6 514.6L141.6 514.6L142.7 514.6L142.7 515.4L143.6 515.4L143.6 515.9L144.5 515.9L144.5 516.3L146.0 516.3L146.0 516.4L147.5 516.4L147.5 516.6L149.0 516.6L149.0 517.6L150.5 517.6L150.5 517.8L151.6 517.8L151.6 517.7L152.5 517.7L152.5 518.4L153.6 518.4L153.6 518.1L154.5 518.1L154.5 518.5L155.6 518.5L155.6 518.5L156.7 518.5L156.7 519.0L157.6 519.0L157.6 519.1L158.7 519.1L158.7 519.3L160.0 519.3L160.0 519.7" fill="none" stroke="#7d7d7d" stroke-width="2.0" stroke-linejoin="miter"/>
<path d="M83.0 519.7L83.0 517.9L83.9 517.9L83.9 514.8L85.0 514.8L85.0 515.0L86.3 515.0L86.3 516.5L87.2 516.5L87.2 517.7L88.7 517.7L88.7 518.0L90.0 518.0L90.0 517.7L91.3 517.7L91.3 518.1L92.6 518.1L92.6 517.4L94.1 517.4L94.1 516.9L95.2 516.9L95.2 516.3L96.1 516.3L96.1 514.7L97.4 514.7L97.4 514.0L98.5 514.0L98.5 512.2L100.0 512.2L100.0 511.2L101.3 511.2L101.3 509.4L102.8 509.4L102.8 508.1L104.3 508.1L104.3 505.7L105.6 505.7L105.6 502.3L106.9 502.3L106.9 496.9L108.4 496.9L108.4 492.3L109.9 492.3L109.9 484.8L111.2 484.8L111.2 480.8L112.5 480.8L112.5 474.8L113.8 474.8L113.8 472.9L115.3 472.9L115.3 466.8L116.6 466.8L116.6 466.1L117.5 466.1L117.5 464.4L118.4 464.4L118.4 465.2L119.3 465.2L119.3 464.2L120.6 464.2L120.6 465.8L121.5 465.8L121.5 466.1L122.8 466.1L122.8 462.8L123.7 462.8L123.7 464.3L124.6 464.3L124.6 463.5L125.7 463.5L125.7 465.4L126.6 465.4L126.6 466.2L127.5 466.2L127.5 460.8L128.6 460.8L128.6 460.6L129.5 460.6L129.5 462.4L130.6 462.4L130.6 468.4L131.9 468.4L131.9 479.1L132.8 479.1L132.8 483.8L134.1 483.8L134.1 488.4L135.0 488.4L135.0 493.7L136.1 493.7L136.1 497.3L137.4 497.3L137.4 498.3L138.5 498.3L138.5 502.0L140.0 502.0L140.0 503.5L141.3 503.5L141.3 504.4L142.8 504.4L142.8 506.4L143.9 506.4L143.9 508.2L145.0 508.2L145.0 507.3L146.1 507.3L146.1 509.4L147.0 509.4L147.0 511.6L148.5 511.6L148.5 511.5L149.6 511.5L149.6 512.7L150.9 512.7L150.9 513.3L151.8 513.3L151.8 513.2L152.9 513.2L152.9 514.2L154.0 514.2L154.0 513.6L155.1 513.6L155.1 511.9L156.6 511.9L156.6 512.4L158.1 512.4L158.1 515.2L159.2 515.2L159.2 517.4L160.1 517.4L160.1 517.7L161.6 517.7L161.6 517.9L162.5 517.9L162.5 517.7L163.4 517.7L163.4 517.8L164.7 517.8L164.7 518.0L166.0 518.0L166.0 518.5L167.5 518.5L167.5 518.7L168.4 518.7L168.4 518.4L169.9 518.4L169.9 518.9L170.8 518.9L170.8 518.9L172.1 518.9L172.1 518.8L173.6 518.8L173.6 519.1L175.1 519.1L175.1 519.2L176.4 519.2L176.4 517.9L177.3 517.9L177.3 516.1L178.6 516.1L178.6 517.8L179.5 517.8L179.5 518.9L180.4 518.9L180.4 519.1L181.7 519.1L181.7 519.0L183.0 519.0L183.0 518.9L184.5 518.9L184.5 518.5L186.0 518.5L186.0 517.3L187.3 517.3L187.3 518.3L187.6 518.3L187.6 519.7" fill="none" stroke="#111" stroke-width="2.0" stroke-linejoin="miter"/>
<rect x="82.5" y="451.0" width="105.1" height="68.7" fill="none" stroke="#111" stroke-width="1.5"/>
<line x1="118.8" y1="503.8" x2="187.6" y2="503.8" stroke="#111" stroke-width="1.4" stroke-linecap="butt"/>
<line x1="118.8" y1="500.4" x2="118.8" y2="507.2" stroke="#111" stroke-width="1.5" stroke-linecap="butt"/>
<text x="132.0" y="556.5" font-size="15.3" text-anchor="middle" font-weight="bold" font-family='"Liberation Serif", "DejaVu Serif", serif' fill="#111" textLength="39.7" lengthAdjust="spacingAndGlyphs" stroke="#111" stroke-width="0.18" stroke-linejoin="round" >CCR6</text>
<line x1="232.5" y1="519.7" x2="232.5" y2="524.4" stroke="#111" stroke-width="1.2" stroke-linecap="butt"/>
<line x1="240.4" y1="519.7" x2="240.4" y2="522.3" stroke="#111" stroke-width="1.2" stroke-linecap="butt"/>
<line x1="245.0" y1="519.7" x2="245.0" y2="522.3" stroke="#111" stroke-width="1.2" stroke-linecap="butt"/>
<line x1="248.3" y1="519.7" x2="248.3" y2="522.3" stroke="#111" stroke-width="1.2" stroke-linecap="butt"/>
<line x1="250.8" y1="519.7" x2="250.8" y2="522.3" stroke="#111" stroke-width="1.2" stroke-linecap="butt"/>
<line x1="252.9" y1="519.7" x2="252.9" y2="522.3" stroke="#111" stroke-width="1.2" stroke-linecap="butt"/>
<line x1="254.6" y1="519.7" x2="254.6" y2="522.3" stroke="#111" stroke-width="1.2" stroke-linecap="butt"/>
<line x1="256.1" y1="519.7" x2="256.1" y2="522.3" stroke="#111" stroke-width="1.2" stroke-linecap="butt"/>
<line x1="257.5" y1="519.7" x2="257.5" y2="522.3" stroke="#111" stroke-width="1.2" stroke-linecap="butt"/>
<line x1="258.7" y1="519.7" x2="258.7" y2="524.4" stroke="#111" stroke-width="1.2" stroke-linecap="butt"/>
<line x1="266.6" y1="519.7" x2="266.6" y2="522.3" stroke="#111" stroke-width="1.2" stroke-linecap="butt"/>
<line x1="271.2" y1="519.7" x2="271.2" y2="522.3" stroke="#111" stroke-width="1.2" stroke-linecap="butt"/>
<line x1="274.4" y1="519.7" x2="274.4" y2="522.3" stroke="#111" stroke-width="1.2" stroke-linecap="butt"/>
<line x1="277.0" y1="519.7" x2="277.0" y2="522.3" stroke="#111" stroke-width="1.2" stroke-linecap="butt"/>
<line x1="279.0" y1="519.7" x2="279.0" y2="522.3" stroke="#111" stroke-width="1.2" stroke-linecap="butt"/>
<line x1="280.8" y1="519.7" x2="280.8" y2="522.3" stroke="#111" stroke-width="1.2" stroke-linecap="butt"/>
<line x1="282.3" y1="519.7" x2="282.3" y2="522.3" stroke="#111" stroke-width="1.2" stroke-linecap="butt"/>
<line x1="283.7" y1="519.7" x2="283.7" y2="522.3" stroke="#111" stroke-width="1.2" stroke-linecap="butt"/>
<line x1="284.9" y1="519.7" x2="284.9" y2="524.4" stroke="#111" stroke-width="1.2" stroke-linecap="butt"/>
<line x1="292.7" y1="519.7" x2="292.7" y2="522.3" stroke="#111" stroke-width="1.2" stroke-linecap="butt"/>
<line x1="297.3" y1="519.7" x2="297.3" y2="522.3" stroke="#111" stroke-width="1.2" stroke-linecap="butt"/>
<line x1="300.6" y1="519.7" x2="300.6" y2="522.3" stroke="#111" stroke-width="1.2" stroke-linecap="butt"/>
<line x1="303.1" y1="519.7" x2="303.1" y2="522.3" stroke="#111" stroke-width="1.2" stroke-linecap="butt"/>
<line x1="305.2" y1="519.7" x2="305.2" y2="522.3" stroke="#111" stroke-width="1.2" stroke-linecap="butt"/>
<line x1="307.0" y1="519.7" x2="307.0" y2="522.3" stroke="#111" stroke-width="1.2" stroke-linecap="butt"/>
<line x1="308.5" y1="519.7" x2="308.5" y2="522.3" stroke="#111" stroke-width="1.2" stroke-linecap="butt"/>
<line x1="309.8" y1="519.7" x2="309.8" y2="522.3" stroke="#111" stroke-width="1.2" stroke-linecap="butt"/>
<line x1="311.0" y1="519.7" x2="311.0" y2="524.4" stroke="#111" stroke-width="1.2" stroke-linecap="butt"/>
<line x1="318.9" y1="519.7" x2="318.9" y2="522.3" stroke="#111" stroke-width="1.2" stroke-linecap="butt"/>
<line x1="323.5" y1="519.7" x2="323.5" y2="522.3" stroke="#111" stroke-width="1.2" stroke-linecap="butt"/>
<line x1="326.8" y1="519.7" x2="326.8" y2="522.3" stroke="#111" stroke-width="1.2" stroke-linecap="butt"/>
<line x1="329.3" y1="519.7" x2="329.3" y2="522.3" stroke="#111" stroke-width="1.2" stroke-linecap="butt"/>
<line x1="331.4" y1="519.7" x2="331.4" y2="522.3" stroke="#111" stroke-width="1.2" stroke-linecap="butt"/>
<line x1="333.1" y1="519.7" x2="333.1" y2="522.3" stroke="#111" stroke-width="1.2" stroke-linecap="butt"/>
<line x1="334.7" y1="519.7" x2="334.7" y2="522.3" stroke="#111" stroke-width="1.2" stroke-linecap="butt"/>
<line x1="336.0" y1="519.7" x2="336.0" y2="522.3" stroke="#111" stroke-width="1.2" stroke-linecap="butt"/>
<line x1="337.2" y1="519.7" x2="337.2" y2="524.4" stroke="#111" stroke-width="1.2" stroke-linecap="butt"/>
<line x1="227.9" y1="519.7" x2="232.5" y2="519.7" stroke="#111" stroke-width="1.0" stroke-linecap="butt"/>
<line x1="229.9" y1="518.0" x2="232.5" y2="518.0" stroke="#111" stroke-width="1.0" stroke-linecap="butt"/>
<line x1="229.9" y1="516.3" x2="232.5" y2="516.3" stroke="#111" stroke-width="1.0" stroke-linecap="butt"/>
<line x1="229.9" y1="514.5" x2="232.5" y2="514.5" stroke="#111" stroke-width="1.0" stroke-linecap="butt"/>
<line x1="229.9" y1="512.8" x2="232.5" y2="512.8" stroke="#111" stroke-width="1.0" stroke-linecap="butt"/>
<line x1="229.1" y1="511.1" x2="232.5" y2="511.1" stroke="#111" stroke-width="1.0" stroke-linecap="butt"/>
<line x1="229.9" y1="509.4" x2="232.5" y2="509.4" stroke="#111" stroke-width="1.0" stroke-linecap="butt"/>
<line x1="229.9" y1="507.7" x2="232.5" y2="507.7" stroke="#111" stroke-width="1.0" stroke-linecap="butt"/>
<line x1="229.9" y1="506.0" x2="232.5" y2="506.0" stroke="#111" stroke-width="1.0" stroke-linecap="butt"/>
<line x1="229.9" y1="504.2" x2="232.5" y2="504.2" stroke="#111" stroke-width="1.0" stroke-linecap="butt"/>
<line x1="227.9" y1="502.5" x2="232.5" y2="502.5" stroke="#111" stroke-width="1.0" stroke-linecap="butt"/>
<line x1="229.9" y1="500.8" x2="232.5" y2="500.8" stroke="#111" stroke-width="1.0" stroke-linecap="butt"/>
<line x1="229.9" y1="499.1" x2="232.5" y2="499.1" stroke="#111" stroke-width="1.0" stroke-linecap="butt"/>
<line x1="229.9" y1="497.4" x2="232.5" y2="497.4" stroke="#111" stroke-width="1.0" stroke-linecap="butt"/>
<line x1="229.9" y1="495.7" x2="232.5" y2="495.7" stroke="#111" stroke-width="1.0" stroke-linecap="butt"/>
<line x1="229.1" y1="493.9" x2="232.5" y2="493.9" stroke="#111" stroke-width="1.0" stroke-linecap="butt"/>
<line x1="229.9" y1="492.2" x2="232.5" y2="492.2" stroke="#111" stroke-width="1.0" stroke-linecap="butt"/>
<line x1="229.9" y1="490.5" x2="232.5" y2="490.5" stroke="#111" stroke-width="1.0" stroke-linecap="butt"/>
<line x1="229.9" y1="488.8" x2="232.5" y2="488.8" stroke="#111" stroke-width="1.0" stroke-linecap="butt"/>
<line x1="229.9" y1="487.1" x2="232.5" y2="487.1" stroke="#111" stroke-width="1.0" stroke-linecap="butt"/>
<line x1="227.9" y1="485.4" x2="232.5" y2="485.4" stroke="#111" stroke-width="1.0" stroke-linecap="butt"/>
<line x1="229.9" y1="483.6" x2="232.5" y2="483.6" stroke="#111" stroke-width="1.0" stroke-linecap="butt"/>
<line x1="229.9" y1="481.9" x2="232.5" y2="481.9" stroke="#111" stroke-width="1.0" stroke-linecap="butt"/>
<line x1="229.9" y1="480.2" x2="232.5" y2="480.2" stroke="#111" stroke-width="1.0" stroke-linecap="butt"/>
<line x1="229.9" y1="478.5" x2="232.5" y2="478.5" stroke="#111" stroke-width="1.0" stroke-linecap="butt"/>
<line x1="229.1" y1="476.8" x2="232.5" y2="476.8" stroke="#111" stroke-width="1.0" stroke-linecap="butt"/>
<line x1="229.9" y1="475.0" x2="232.5" y2="475.0" stroke="#111" stroke-width="1.0" stroke-linecap="butt"/>
<line x1="229.9" y1="473.3" x2="232.5" y2="473.3" stroke="#111" stroke-width="1.0" stroke-linecap="butt"/>
<line x1="229.9" y1="471.6" x2="232.5" y2="471.6" stroke="#111" stroke-width="1.0" stroke-linecap="butt"/>
<line x1="229.9" y1="469.9" x2="232.5" y2="469.9" stroke="#111" stroke-width="1.0" stroke-linecap="butt"/>
<line x1="227.9" y1="468.2" x2="232.5" y2="468.2" stroke="#111" stroke-width="1.0" stroke-linecap="butt"/>
<line x1="229.9" y1="466.5" x2="232.5" y2="466.5" stroke="#111" stroke-width="1.0" stroke-linecap="butt"/>
<line x1="229.9" y1="464.7" x2="232.5" y2="464.7" stroke="#111" stroke-width="1.0" stroke-linecap="butt"/>
<line x1="229.9" y1="463.0" x2="232.5" y2="463.0" stroke="#111" stroke-width="1.0" stroke-linecap="butt"/>
<line x1="229.9" y1="461.3" x2="232.5" y2="461.3" stroke="#111" stroke-width="1.0" stroke-linecap="butt"/>
<line x1="229.1" y1="459.6" x2="232.5" y2="459.6" stroke="#111" stroke-width="1.0" stroke-linecap="butt"/>
<line x1="229.9" y1="457.9" x2="232.5" y2="457.9" stroke="#111" stroke-width="1.0" stroke-linecap="butt"/>
<line x1="229.9" y1="456.2" x2="232.5" y2="456.2" stroke="#111" stroke-width="1.0" stroke-linecap="butt"/>
<line x1="229.9" y1="454.4" x2="232.5" y2="454.4" stroke="#111" stroke-width="1.0" stroke-linecap="butt"/>
<line x1="229.9" y1="452.7" x2="232.5" y2="452.7" stroke="#111" stroke-width="1.0" stroke-linecap="butt"/>
<line x1="227.9" y1="451.0" x2="232.5" y2="451.0" stroke="#111" stroke-width="1.0" stroke-linecap="butt"/>
<text x="225.8" y="537.7" font-size="11" text-anchor="start" font-weight="bold" font-family='"Liberation Sans", "DejaVu Sans", sans-serif' fill="#111" textLength="8.6" lengthAdjust="spacingAndGlyphs" stroke="#111" stroke-width="0.45" stroke-linejoin="round" >10</text>
<text x="234.4" y="532.4" font-size="9.3" text-anchor="start" font-weight="bold" font-family='"Liberation Sans", "DejaVu Sans", sans-serif' fill="#111" textLength="4.9" lengthAdjust="spacingAndGlyphs" stroke="#111" stroke-width="0.4" stroke-linejoin="round" >0</text>
<text x="252.0" y="537.7" font-size="11" text-anchor="start" font-weight="bold" font-family='"Liberation Sans", "DejaVu Sans", sans-serif' fill="#111" textLength="8.6" lengthAdjust="spacingAndGlyphs" stroke="#111" stroke-width="0.45" stroke-linejoin="round" >10</text>
<text x="260.6" y="532.4" font-size="9.3" text-anchor="start" font-weight="bold" font-family='"Liberation Sans", "DejaVu Sans", sans-serif' fill="#111" textLength="4.9" lengthAdjust="spacingAndGlyphs" stroke="#111" stroke-width="0.4" stroke-linejoin="round" >1</text>
<text x="278.2" y="537.7" font-size="11" text-anchor="start" font-weight="bold" font-family='"Liberation Sans", "DejaVu Sans", sans-serif' fill="#111" textLength="8.6" lengthAdjust="spacingAndGlyphs" stroke="#111" stroke-width="0.45" stroke-linejoin="round" >10</text>
<text x="286.8" y="532.4" font-size="9.3" text-anchor="start" font-weight="bold" font-family='"Liberation Sans", "DejaVu Sans", sans-serif' fill="#111" textLength="4.9" lengthAdjust="spacingAndGlyphs" stroke="#111" stroke-width="0.4" stroke-linejoin="round" >2</text>
<text x="304.3" y="537.7" font-size="11" text-anchor="start" font-weight="bold" font-family='"Liberation Sans", "DejaVu Sans", sans-serif' fill="#111" textLength="8.6" lengthAdjust="spacingAndGlyphs" stroke="#111" stroke-width="0.45" stroke-linejoin="round" >10</text>
<text x="312.9" y="532.4" font-size="9.3" text-anchor="start" font-weight="bold" font-family='"Liberation Sans", "DejaVu Sans", sans-serif' fill="#111" textLength="4.9" lengthAdjust="spacingAndGlyphs" stroke="#111" stroke-width="0.4" stroke-linejoin="round" >3</text>
<text x="330.5" y="537.7" font-size="11" text-anchor="start" font-weight="bold" font-family='"Liberation Sans", "DejaVu Sans", sans-serif' fill="#111" textLength="8.6" lengthAdjust="spacingAndGlyphs" stroke="#111" stroke-width="0.45" stroke-linejoin="round" >10</text>
<text x="339.1" y="532.4" font-size="9.3" text-anchor="start" font-weight="bold" font-family='"Liberation Sans", "DejaVu Sans", sans-serif' fill="#111" textLength="4.9" lengthAdjust="spacingAndGlyphs" stroke="#111" stroke-width="0.4" stroke-linejoin="round" >4</text>
<text x="224.9" y="520.0" font-size="8.5" text-anchor="middle" font-weight="bold" font-family='"Liberation Sans", "DejaVu Sans", sans-serif' fill="#111" transform="rotate(-90 224.9 520.0)" stroke="#111" stroke-width="0.3" stroke-linejoin="round" >0</text>
<text x="224.9" y="453.0" font-size="8.5" text-anchor="middle" font-weight="bold" font-family='"Liberation Sans", "DejaVu Sans", sans-serif' fill="#111" transform="rotate(-90 224.9 453.0)" stroke="#111" stroke-width="0.3" stroke-linejoin="round" >40</text>
<path d="M233.0 519.7L233.0 517.1L234.5 517.1L234.5 518.1L236.0 518.1L236.0 518.8L237.1 518.8L237.1 518.9L238.2 518.9L238.2 518.5L239.1 518.5L239.1 518.8L240.0 518.8L240.0 518.6L241.5 518.6L241.5 518.5L242.6 518.5L242.6 518.9L243.5 518.9L243.5 518.5L244.6 518.5L244.6 518.4L245.9 518.4L245.9 518.6L247.0 518.6L247.0 518.7L247.9 518.7L247.9 518.6L248.8 518.6L248.8 518.8L249.9 518.8L249.9 518.1L250.8 518.1L250.8 517.9L252.3 517.9L252.3 516.4L253.2 516.4L253.2 515.7L254.1 515.7L254.1 515.3L255.6 515.3L255.6 514.7L256.7 514.7L256.7 514.6L257.6 514.6L257.6 513.6L259.1 513.6L259.1 513.0L260.2 513.0L260.2 512.0L261.7 512.0L261.7 511.4L262.8 511.4L262.8 510.7L263.9 510.7L263.9 510.5L265.4 510.5L265.4 508.3L266.7 508.3L266.7 509.3L268.0 509.3L268.0 507.8L269.1 507.8L269.1 506.8L270.0 506.8L270.0 501.1L271.5 501.1L271.5 495.3L272.8 495.3L272.8 490.8L273.7 490.8L273.7 486.7L274.8 486.7L274.8 481.0L276.3 481.0L276.3 474.8L277.4 474.8L277.4 469.9L278.5 469.9L278.5 461.5L279.6 461.5L279.6 457.3L280.7 457.3L280.7 459.7L282.2 459.7L282.2 463.5L283.1 463.5L283.1 465.4L284.4 465.4L284.4 468.5L285.7 468.5L285.7 475.5L287.2 475.5L287.2 479.4L288.1 479.4L288.1 481.0L289.0 481.0L289.0 484.7L290.1 484.7L290.1 489.2L291.6 489.2L291.6 492.3L292.7 492.3L292.7 497.3L293.8 497.3L293.8 499.1L295.3 499.1L295.3 502.8L296.4 502.8L296.4 506.8L297.9 506.8L297.9 510.3L298.8 510.3L298.8 512.3L300.3 512.3L300.3 513.8L301.4 513.8L301.4 514.5L302.7 514.5L302.7 515.4L303.8 515.4L303.8 516.9L305.1 516.9L305.1 517.7L306.0 517.7L306.0 517.9L306.9 517.9L306.9 518.5L308.4 518.5L308.4 518.2L309.3 518.2L309.3 518.1L310.6 518.1L310.6 518.2L312.1 518.2L312.1 518.3L313.6 518.3L313.6 518.6L314.5 518.6L314.5 518.7L315.8 518.7L315.8 518.9L316.9 518.9L316.9 519.1L318.4 519.1L318.4 518.9L319.7 518.9L319.7 519.0L320.8 519.0L320.8 519.1L322.1 519.1L322.1 519.3L323.6 519.3L323.6 519.4L325.0 519.4L325.0 519.7" fill="none" stroke="#7d7d7d" stroke-width="2.0" stroke-linejoin="miter"/>
<path d="M233.0 519.7L233.0 513.9L234.5 513.9L234.5 514.3L235.8 514.3L235.8 516.4L237.1 516.4L237.1 518.0L238.6 518.0L238.6 518.5L239.5 518.5L239.5 518.5L241.0 518.5L241.0 518.3L242.1 518.3L242.1 518.3L243.0 518.3L243.0 518.3L244.5 518.3L244.5 517.1L245.4 517.1L245.4 516.3L246.5 516.3L246.5 516.0L248.0 516.0L248.0 514.6L249.1 514.6L249.1 513.6L250.2 513.6L250.2 514.0L251.3 514.0L251.3 512.4L252.8 512.4L252.8 511.1L254.3 511.1L254.3 508.3L255.2 508.3L255.2 507.6L256.5 507.6L256.5 505.0L258.0 505.0L258.0 501.6L259.1 501.6L259.1 497.3L260.2 497.3L260.2 495.0L261.7 495.0L261.7 490.2L263.2 490.2L263.2 486.1L264.1 486.1L264.1 484.9L265.0 484.9L265.0 481.8L266.3 481.8L266.3 479.8L267.2 479.8L267.2 477.7L268.5 477.7L268.5 473.4L270.0 473.4L270.0 469.7L271.5 469.7L271.5 468.5L272.6 468.5L272.6 464.6L273.5 464.6L273.5 468.0L274.8 468.0L274.8 471.5L275.7 471.5L275.7 471.3L277.0 471.3L277.0 473.9L277.9 473.9L277.9 480.0L279.2 480.0L279.2 486.4L280.7 486.4L280.7 492.4L282.2 492.4L282.2 498.3L283.5 498.3L283.5 500.4L284.8 500.4L284.8 503.9L286.3 503.9L286.3 507.9L287.6 507.9L287.6 510.3L288.5 510.3L288.5 512.5L289.8 512.5L289.8 514.8L291.3 514.8L291.3 515.2L292.6 515.2L292.6 515.0L293.5 515.0L293.5 515.5L294.8 515.5L294.8 516.5L296.3 516.5L296.3 516.1L297.4 516.1L297.4 516.8L298.3 516.8L298.3 517.3L299.8 517.3L299.8 517.9L300.9 517.9L300.9 518.8L302.4 518.8L302.4 519.1L303.9 519.1L303.9 519.3L305.0 519.3L305.0 519.7" fill="none" stroke="#111" stroke-width="2.0" stroke-linejoin="miter"/>
<rect x="232.5" y="451.0" width="104.7" height="68.7" fill="none" stroke="#111" stroke-width="1.5"/>
<line x1="273.8" y1="506.0" x2="337.2" y2="506.0" stroke="#111" stroke-width="1.4" stroke-linecap="butt"/>
<line x1="273.8" y1="502.6" x2="273.8" y2="509.4" stroke="#111" stroke-width="1.5" stroke-linecap="butt"/>
<text x="279.6" y="555.9" font-size="15.3" text-anchor="middle" font-weight="bold" font-family='"Liberation Serif", "DejaVu Serif", serif' fill="#111" textLength="38.2" lengthAdjust="spacingAndGlyphs" stroke="#111" stroke-width="0.18" stroke-linejoin="round" >CCR7</text>
<line x1="83.2" y1="660.0" x2="83.2" y2="664.7" stroke="#111" stroke-width="1.2" stroke-linecap="butt"/>
<line x1="91.1" y1="660.0" x2="91.1" y2="662.6" stroke="#111" stroke-width="1.2" stroke-linecap="butt"/>
<line x1="95.7" y1="660.0" x2="95.7" y2="662.6" stroke="#111" stroke-width="1.2" stroke-linecap="butt"/>
<line x1="98.9" y1="660.0" x2="98.9" y2="662.6" stroke="#111" stroke-width="1.2" stroke-linecap="butt"/>
<line x1="101.4" y1="660.0" x2="101.4" y2="662.6" stroke="#111" stroke-width="1.2" stroke-linecap="butt"/>
<line x1="103.5" y1="660.0" x2="103.5" y2="662.6" stroke="#111" stroke-width="1.2" stroke-linecap="butt"/>
<line x1="105.3" y1="660.0" x2="105.3" y2="662.6" stroke="#111" stroke-width="1.2" stroke-linecap="butt"/>
<line x1="106.8" y1="660.0" x2="106.8" y2="662.6" stroke="#111" stroke-width="1.2" stroke-linecap="butt"/>
<line x1="108.1" y1="660.0" x2="108.1" y2="662.6" stroke="#111" stroke-width="1.2" stroke-linecap="butt"/>
<line x1="109.3" y1="660.0" x2="109.3" y2="664.7" stroke="#111" stroke-width="1.2" stroke-linecap="butt"/>
<line x1="117.2" y1="660.0" x2="117.2" y2="662.6" stroke="#111" stroke-width="1.2" stroke-linecap="butt"/>
<line x1="121.8" y1="660.0" x2="121.8" y2="662.6" stroke="#111" stroke-width="1.2" stroke-linecap="butt"/>
<line x1="125.0" y1="660.0" x2="125.0" y2="662.6" stroke="#111" stroke-width="1.2" stroke-linecap="butt"/>
<line x1="127.5" y1="660.0" x2="127.5" y2="662.6" stroke="#111" stroke-width="1.2" stroke-linecap="butt"/>
<line x1="129.6" y1="660.0" x2="129.6" y2="662.6" stroke="#111" stroke-width="1.2" stroke-linecap="butt"/>
<line x1="131.4" y1="660.0" x2="131.4" y2="662.6" stroke="#111" stroke-width="1.2" stroke-linecap="butt"/>
<line x1="132.9" y1="660.0" x2="132.9" y2="662.6" stroke="#111" stroke-width="1.2" stroke-linecap="butt"/>
<line x1="134.2" y1="660.0" x2="134.2" y2="662.6" stroke="#111" stroke-width="1.2" stroke-linecap="butt"/>
<line x1="135.4" y1="660.0" x2="135.4" y2="664.7" stroke="#111" stroke-width="1.2" stroke-linecap="butt"/>
<line x1="143.3" y1="660.0" x2="143.3" y2="662.6" stroke="#111" stroke-width="1.2" stroke-linecap="butt"/>
<line x1="147.9" y1="660.0" x2="147.9" y2="662.6" stroke="#111" stroke-width="1.2" stroke-linecap="butt"/>
<line x1="151.1" y1="660.0" x2="151.1" y2="662.6" stroke="#111" stroke-width="1.2" stroke-linecap="butt"/>
<line x1="153.6" y1="660.0" x2="153.6" y2="662.6" stroke="#111" stroke-width="1.2" stroke-linecap="butt"/>
<line x1="155.7" y1="660.0" x2="155.7" y2="662.6" stroke="#111" stroke-width="1.2" stroke-linecap="butt"/>
<line x1="157.5" y1="660.0" x2="157.5" y2="662.6" stroke="#111" stroke-width="1.2" stroke-linecap="butt"/>
<line x1="159.0" y1="660.0" x2="159.0" y2="662.6" stroke="#111" stroke-width="1.2" stroke-linecap="butt"/>
<line x1="160.3" y1="660.0" x2="160.3" y2="662.6" stroke="#111" stroke-width="1.2" stroke-linecap="butt"/>
<line x1="161.5" y1="660.0" x2="161.5" y2="664.7" stroke="#111" stroke-width="1.2" stroke-linecap="butt"/>
<line x1="169.4" y1="660.0" x2="169.4" y2="662.6" stroke="#111" stroke-width="1.2" stroke-linecap="butt"/>
<line x1="174.0" y1="660.0" x2="174.0" y2="662.6" stroke="#111" stroke-width="1.2" stroke-linecap="butt"/>
<line x1="177.2" y1="660.0" x2="177.2" y2="662.6" stroke="#111" stroke-width="1.2" stroke-linecap="butt"/>
<line x1="179.7" y1="660.0" x2="179.7" y2="662.6" stroke="#111" stroke-width="1.2" stroke-linecap="butt"/>
<line x1="181.8" y1="660.0" x2="181.8" y2="662.6" stroke="#111" stroke-width="1.2" stroke-linecap="butt"/>
<line x1="183.6" y1="660.0" x2="183.6" y2="662.6" stroke="#111" stroke-width="1.2" stroke-linecap="butt"/>
<line x1="185.1" y1="660.0" x2="185.1" y2="662.6" stroke="#111" stroke-width="1.2" stroke-linecap="butt"/>
<line x1="186.4" y1="660.0" x2="186.4" y2="662.6" stroke="#111" stroke-width="1.2" stroke-linecap="butt"/>
<line x1="187.6" y1="660.0" x2="187.6" y2="664.7" stroke="#111" stroke-width="1.2" stroke-linecap="butt"/>
<line x1="78.6" y1="660.0" x2="83.2" y2="660.0" stroke="#111" stroke-width="1.0" stroke-linecap="butt"/>
<line x1="80.6" y1="658.3" x2="83.2" y2="658.3" stroke="#111" stroke-width="1.0" stroke-linecap="butt"/>
<line x1="80.6" y1="656.6" x2="83.2" y2="656.6" stroke="#111" stroke-width="1.0" stroke-linecap="butt"/>
<line x1="80.6" y1="654.9" x2="83.2" y2="654.9" stroke="#111" stroke-width="1.0" stroke-linecap="butt"/>
<line x1="80.6" y1="653.1" x2="83.2" y2="653.1" stroke="#111" stroke-width="1.0" stroke-linecap="butt"/>
<line x1="79.8" y1="651.4" x2="83.2" y2="651.4" stroke="#111" stroke-width="1.0" stroke-linecap="butt"/>
<line x1="80.6" y1="649.7" x2="83.2" y2="649.7" stroke="#111" stroke-width="1.0" stroke-linecap="butt"/>
<line x1="80.6" y1="648.0" x2="83.2" y2="648.0" stroke="#111" stroke-width="1.0" stroke-linecap="butt"/>
<line x1="80.6" y1="646.3" x2="83.2" y2="646.3" stroke="#111" stroke-width="1.0" stroke-linecap="butt"/>
<line x1="80.6" y1="644.6" x2="83.2" y2="644.6" stroke="#111" stroke-width="1.0" stroke-linecap="butt"/>
<line x1="78.6" y1="642.9" x2="83.2" y2="642.9" stroke="#111" stroke-width="1.0" stroke-linecap="butt"/>
<line x1="80.6" y1="641.2" x2="83.2" y2="641.2" stroke="#111" stroke-width="1.0" stroke-linecap="butt"/>
<line x1="80.6" y1="639.5" x2="83.2" y2="639.5" stroke="#111" stroke-width="1.0" stroke-linecap="butt"/>
<line x1="80.6" y1="637.7" x2="83.2" y2="637.7" stroke="#111" stroke-width="1.0" stroke-linecap="butt"/>
<line x1="80.6" y1="636.0" x2="83.2" y2="636.0" stroke="#111" stroke-width="1.0" stroke-linecap="butt"/>
<line x1="79.8" y1="634.3" x2="83.2" y2="634.3" stroke="#111" stroke-width="1.0" stroke-linecap="butt"/>
<line x1="80.6" y1="632.6" x2="83.2" y2="632.6" stroke="#111" stroke-width="1.0" stroke-linecap="butt"/>
<line x1="80.6" y1="630.9" x2="83.2" y2="630.9" stroke="#111" stroke-width="1.0" stroke-linecap="butt"/>
<line x1="80.6" y1="629.2" x2="83.2" y2="629.2" stroke="#111" stroke-width="1.0" stroke-linecap="butt"/>
<line x1="80.6" y1="627.5" x2="83.2" y2="627.5" stroke="#111" stroke-width="1.0" stroke-linecap="butt"/>
<line x1="78.6" y1="625.8" x2="83.2" y2="625.8" stroke="#111" stroke-width="1.0" stroke-linecap="butt"/>
<line x1="80.6" y1="624.0" x2="83.2" y2="624.0" stroke="#111" stroke-width="1.0" stroke-linecap="butt"/>
<line x1="80.6" y1="622.3" x2="83.2" y2="622.3" stroke="#111" stroke-width="1.0" stroke-linecap="butt"/>
<line x1="80.6" y1="620.6" x2="83.2" y2="620.6" stroke="#111" stroke-width="1.0" stroke-linecap="butt"/>
<line x1="80.6" y1="618.9" x2="83.2" y2="618.9" stroke="#111" stroke-width="1.0" stroke-linecap="butt"/>
<line x1="79.8" y1="617.2" x2="83.2" y2="617.2" stroke="#111" stroke-width="1.0" stroke-linecap="butt"/>
<line x1="80.6" y1="615.5" x2="83.2" y2="615.5" stroke="#111" stroke-width="1.0" stroke-linecap="butt"/>
<line x1="80.6" y1="613.8" x2="83.2" y2="613.8" stroke="#111" stroke-width="1.0" stroke-linecap="butt"/>
<line x1="80.6" y1="612.0" x2="83.2" y2="612.0" stroke="#111" stroke-width="1.0" stroke-linecap="butt"/>
<line x1="80.6" y1="610.3" x2="83.2" y2="610.3" stroke="#111" stroke-width="1.0" stroke-linecap="butt"/>
<line x1="78.6" y1="608.6" x2="83.2" y2="608.6" stroke="#111" stroke-width="1.0" stroke-linecap="butt"/>
<line x1="80.6" y1="606.9" x2="83.2" y2="606.9" stroke="#111" stroke-width="1.0" stroke-linecap="butt"/>
<line x1="80.6" y1="605.2" x2="83.2" y2="605.2" stroke="#111" stroke-width="1.0" stroke-linecap="butt"/>
<line x1="80.6" y1="603.5" x2="83.2" y2="603.5" stroke="#111" stroke-width="1.0" stroke-linecap="butt"/>
<line x1="80.6" y1="601.8" x2="83.2" y2="601.8" stroke="#111" stroke-width="1.0" stroke-linecap="butt"/>
<line x1="79.8" y1="600.1" x2="83.2" y2="600.1" stroke="#111" stroke-width="1.0" stroke-linecap="butt"/>
<line x1="80.6" y1="598.4" x2="83.2" y2="598.4" stroke="#111" stroke-width="1.0" stroke-linecap="butt"/>
<line x1="80.6" y1="596.6" x2="83.2" y2="596.6" stroke="#111" stroke-width="1.0" stroke-linecap="butt"/>
<line x1="80.6" y1="594.9" x2="83.2" y2="594.9" stroke="#111" stroke-width="1.0" stroke-linecap="butt"/>
<line x1="80.6" y1="593.2" x2="83.2" y2="593.2" stroke="#111" stroke-width="1.0" stroke-linecap="butt"/>
<line x1="78.6" y1="591.5" x2="83.2" y2="591.5" stroke="#111" stroke-width="1.0" stroke-linecap="butt"/>
<text x="76.5" y="678.0" font-size="11" text-anchor="start" font-weight="bold" font-family='"Liberation Sans", "DejaVu Sans", sans-serif' fill="#111" textLength="8.6" lengthAdjust="spacingAndGlyphs" stroke="#111" stroke-width="0.45" stroke-linejoin="round" >10</text>
<text x="85.1" y="672.7" font-size="9.3" text-anchor="start" font-weight="bold" font-family='"Liberation Sans", "DejaVu Sans", sans-serif' fill="#111" textLength="4.9" lengthAdjust="spacingAndGlyphs" stroke="#111" stroke-width="0.4" stroke-linejoin="round" >0</text>
<text x="102.6" y="678.0" font-size="11" text-anchor="start" font-weight="bold" font-family='"Liberation Sans", "DejaVu Sans", sans-serif' fill="#111" textLength="8.6" lengthAdjust="spacingAndGlyphs" stroke="#111" stroke-width="0.45" stroke-linejoin="round" >10</text>
<text x="111.2" y="672.7" font-size="9.3" text-anchor="start" font-weight="bold" font-family='"Liberation Sans", "DejaVu Sans", sans-serif' fill="#111" textLength="4.9" lengthAdjust="spacingAndGlyphs" stroke="#111" stroke-width="0.4" stroke-linejoin="round" >1</text>
<text x="128.7" y="678.0" font-size="11" text-anchor="start" font-weight="bold" font-family='"Liberation Sans", "DejaVu Sans", sans-serif' fill="#111" textLength="8.6" lengthAdjust="spacingAndGlyphs" stroke="#111" stroke-width="0.45" stroke-linejoin="round" >10</text>
<text x="137.3" y="672.7" font-size="9.3" text-anchor="start" font-weight="bold" font-family='"Liberation Sans", "DejaVu Sans", sans-serif' fill="#111" textLength="4.9" lengthAdjust="spacingAndGlyphs" stroke="#111" stroke-width="0.4" stroke-linejoin="round" >2</text>
<text x="154.8" y="678.0" font-size="11" text-anchor="start" font-weight="bold" font-family='"Liberation Sans", "DejaVu Sans", sans-serif' fill="#111" textLength="8.6" lengthAdjust="spacingAndGlyphs" stroke="#111" stroke-width="0.45" stroke-linejoin="round" >10</text>
<text x="163.4" y="672.7" font-size="9.3" text-anchor="start" font-weight="bold" font-family='"Liberation Sans", "DejaVu Sans", sans-serif' fill="#111" textLength="4.9" lengthAdjust="spacingAndGlyphs" stroke="#111" stroke-width="0.4" stroke-linejoin="round" >3</text>
<text x="180.9" y="678.0" font-size="11" text-anchor="start" font-weight="bold" font-family='"Liberation Sans", "DejaVu Sans", sans-serif' fill="#111" textLength="8.6" lengthAdjust="spacingAndGlyphs" stroke="#111" stroke-width="0.45" stroke-linejoin="round" >10</text>
<text x="189.5" y="672.7" font-size="9.3" text-anchor="start" font-weight="bold" font-family='"Liberation Sans", "DejaVu Sans", sans-serif' fill="#111" textLength="4.9" lengthAdjust="spacingAndGlyphs" stroke="#111" stroke-width="0.4" stroke-linejoin="round" >4</text>
<text x="75.6" y="660.3" font-size="8.5" text-anchor="middle" font-weight="bold" font-family='"Liberation Sans", "DejaVu Sans", sans-serif' fill="#111" transform="rotate(-90 75.6 660.3)" stroke="#111" stroke-width="0.3" stroke-linejoin="round" >0</text>
<text x="75.6" y="593.5" font-size="8.5" text-anchor="middle" font-weight="bold" font-family='"Liberation Sans", "DejaVu Sans", sans-serif' fill="#111" transform="rotate(-90 75.6 593.5)" stroke="#111" stroke-width="0.3" stroke-linejoin="round" >40</text>
<path d="M95.0 660.0L95.0 659.4L96.1 659.4L96.1 659.0L97.6 659.0L97.6 658.3L99.1 658.3L99.1 658.2L100.6 658.2L100.6 658.2L101.7 658.2L101.7 657.3L103.2 657.3L103.2 656.8L104.3 656.8L104.3 655.0L105.8 655.0L105.8 653.8L107.3 653.8L107.3 650.7L108.6 650.7L108.6 648.8L109.9 648.8L109.9 646.5L110.8 646.5L110.8 644.8L112.3 644.8L112.3 643.7L113.8 643.7L113.8 640.9L114.7 640.9L114.7 640.8L115.6 640.8L115.6 640.1L116.5 640.1L116.5 639.1L118.0 639.1L118.0 639.2L119.5 639.2L119.5 637.5L121.0 637.5L121.0 636.2L122.3 636.2L122.3 632.7L123.8 632.7L123.8 627.4L124.9 627.4L124.9 626.6L125.8 626.6L125.8 623.3L127.1 623.3L127.1 623.7L128.4 623.7L128.4 621.0L129.5 621.0L129.5 620.0L130.4 620.0L130.4 622.1L131.5 622.1L131.5 624.1L132.4 624.1L132.4 626.2L133.9 626.2L133.9 631.5L135.0 631.5L135.0 631.1L136.5 631.1L136.5 635.1L137.8 635.1L137.8 636.8L139.1 636.8L139.1 638.3L140.6 638.3L140.6 637.7L141.7 637.7L141.7 642.1L143.2 642.1L143.2 643.8L144.7 643.8L144.7 643.3L146.0 643.3L146.0 645.5L147.5 645.5L147.5 648.4L149.0 648.4L149.0 650.1L150.3 650.1L150.3 651.3L151.8 651.3L151.8 654.0L152.7 654.0L152.7 654.7L153.8 654.7L153.8 655.8L155.1 655.8L155.1 657.8L156.2 657.8L156.2 658.3L157.1 658.3L157.1 659.3L158.2 659.3L158.2 659.3L159.5 659.3L159.5 659.5L160.0 659.5L160.0 660.0" fill="none" stroke="#7d7d7d" stroke-width="2.0" stroke-linejoin="miter"/>
<path d="M105.0 660.0L105.0 659.4L106.1 659.4L106.1 658.9L107.2 658.9L107.2 658.6L108.3 658.6L108.3 658.7L109.6 658.7L109.6 658.1L110.9 658.1L110.9 657.4L112.0 657.4L112.0 657.6L113.5 657.6L113.5 656.9L114.4 656.9L114.4 656.9L115.5 656.9L115.5 655.9L116.4 655.9L116.4 655.9L117.7 655.9L117.7 655.5L118.8 655.5L118.8 654.9L119.9 654.9L119.9 654.6L120.8 654.6L120.8 653.8L122.1 653.8L122.1 653.3L123.2 653.3L123.2 652.5L124.1 652.5L124.1 650.9L125.6 650.9L125.6 649.7L127.1 649.7L127.1 648.6L128.4 648.6L128.4 646.8L129.3 646.8L129.3 648.2L130.4 648.2L130.4 646.8L131.5 646.8L131.5 645.2L132.8 645.2L132.8 645.8L133.9 645.8L133.9 643.3L135.0 643.3L135.0 642.4L136.1 642.4L136.1 638.8L137.2 638.8L137.2 639.3L138.7 639.3L138.7 634.9L139.8 634.9L139.8 635.6L141.3 635.6L141.3 627.9L142.6 627.9L142.6 620.8L143.9 620.8L143.9 613.0L145.2 613.0L145.2 605.1L146.3 605.1L146.3 600.9L147.6 600.9L147.6 592.6L148.7 592.6L148.7 591.8L149.8 591.8L149.8 597.6L150.7 597.6L150.7 604.1L151.6 604.1L151.6 614.0L153.1 614.0L153.1 625.3L154.2 625.3L154.2 631.2L155.1 631.2L155.1 638.9L156.6 638.9L156.6 646.3L158.1 646.3L158.1 649.9L159.2 649.9L159.2 653.7L160.3 653.7L160.3 656.5L161.6 656.5L161.6 658.1L162.9 658.1L162.9 658.0L163.8 658.0L163.8 657.9L164.9 657.9L164.9 658.5L166.0 658.5L166.0 658.4L167.3 658.4L167.3 659.0L168.2 659.0L168.2 659.4L169.0 659.4L169.0 660.0" fill="none" stroke="#111" stroke-width="2.0" stroke-linejoin="miter"/>
<rect x="83.2" y="591.5" width="104.4" height="68.5" fill="none" stroke="#111" stroke-width="1.5"/>
<line x1="118.8" y1="644.2" x2="187.6" y2="644.2" stroke="#111" stroke-width="1.4" stroke-linecap="butt"/>
<line x1="118.8" y1="640.8" x2="118.8" y2="647.6" stroke="#111" stroke-width="1.5" stroke-linecap="butt"/>
<text x="134.2" y="694.2" font-size="15.3" text-anchor="middle" font-weight="bold" font-family='"Liberation Serif", "DejaVu Serif", serif' fill="#111" textLength="50.0" lengthAdjust="spacingAndGlyphs" stroke="#111" stroke-width="0.18" stroke-linejoin="round" >CXCR4</text>
<line x1="232.5" y1="659.4" x2="232.5" y2="664.1" stroke="#111" stroke-width="1.2" stroke-linecap="butt"/>
<line x1="240.4" y1="659.4" x2="240.4" y2="662.0" stroke="#111" stroke-width="1.2" stroke-linecap="butt"/>
<line x1="245.0" y1="659.4" x2="245.0" y2="662.0" stroke="#111" stroke-width="1.2" stroke-linecap="butt"/>
<line x1="248.3" y1="659.4" x2="248.3" y2="662.0" stroke="#111" stroke-width="1.2" stroke-linecap="butt"/>
<line x1="250.8" y1="659.4" x2="250.8" y2="662.0" stroke="#111" stroke-width="1.2" stroke-linecap="butt"/>
<line x1="252.9" y1="659.4" x2="252.9" y2="662.0" stroke="#111" stroke-width="1.2" stroke-linecap="butt"/>
<line x1="254.6" y1="659.4" x2="254.6" y2="662.0" stroke="#111" stroke-width="1.2" stroke-linecap="butt"/>
<line x1="256.1" y1="659.4" x2="256.1" y2="662.0" stroke="#111" stroke-width="1.2" stroke-linecap="butt"/>
<line x1="257.5" y1="659.4" x2="257.5" y2="662.0" stroke="#111" stroke-width="1.2" stroke-linecap="butt"/>
<line x1="258.7" y1="659.4" x2="258.7" y2="664.1" stroke="#111" stroke-width="1.2" stroke-linecap="butt"/>
<line x1="266.6" y1="659.4" x2="266.6" y2="662.0" stroke="#111" stroke-width="1.2" stroke-linecap="butt"/>
<line x1="271.2" y1="659.4" x2="271.2" y2="662.0" stroke="#111" stroke-width="1.2" stroke-linecap="butt"/>
<line x1="274.4" y1="659.4" x2="274.4" y2="662.0" stroke="#111" stroke-width="1.2" stroke-linecap="butt"/>
<line x1="277.0" y1="659.4" x2="277.0" y2="662.0" stroke="#111" stroke-width="1.2" stroke-linecap="butt"/>
<line x1="279.0" y1="659.4" x2="279.0" y2="662.0" stroke="#111" stroke-width="1.2" stroke-linecap="butt"/>
<line x1="280.8" y1="659.4" x2="280.8" y2="662.0" stroke="#111" stroke-width="1.2" stroke-linecap="butt"/>
<line x1="282.3" y1="659.4" x2="282.3" y2="662.0" stroke="#111" stroke-width="1.2" stroke-linecap="butt"/>
<line x1="283.7" y1="659.4" x2="283.7" y2="662.0" stroke="#111" stroke-width="1.2" stroke-linecap="butt"/>
<line x1="284.9" y1="659.4" x2="284.9" y2="664.1" stroke="#111" stroke-width="1.2" stroke-linecap="butt"/>
<line x1="292.7" y1="659.4" x2="292.7" y2="662.0" stroke="#111" stroke-width="1.2" stroke-linecap="butt"/>
<line x1="297.3" y1="659.4" x2="297.3" y2="662.0" stroke="#111" stroke-width="1.2" stroke-linecap="butt"/>
<line x1="300.6" y1="659.4" x2="300.6" y2="662.0" stroke="#111" stroke-width="1.2" stroke-linecap="butt"/>
<line x1="303.1" y1="659.4" x2="303.1" y2="662.0" stroke="#111" stroke-width="1.2" stroke-linecap="butt"/>
<line x1="305.2" y1="659.4" x2="305.2" y2="662.0" stroke="#111" stroke-width="1.2" stroke-linecap="butt"/>
<line x1="307.0" y1="659.4" x2="307.0" y2="662.0" stroke="#111" stroke-width="1.2" stroke-linecap="butt"/>
<line x1="308.5" y1="659.4" x2="308.5" y2="662.0" stroke="#111" stroke-width="1.2" stroke-linecap="butt"/>
<line x1="309.8" y1="659.4" x2="309.8" y2="662.0" stroke="#111" stroke-width="1.2" stroke-linecap="butt"/>
<line x1="311.0" y1="659.4" x2="311.0" y2="664.1" stroke="#111" stroke-width="1.2" stroke-linecap="butt"/>
<line x1="318.9" y1="659.4" x2="318.9" y2="662.0" stroke="#111" stroke-width="1.2" stroke-linecap="butt"/>
<line x1="323.5" y1="659.4" x2="323.5" y2="662.0" stroke="#111" stroke-width="1.2" stroke-linecap="butt"/>
<line x1="326.8" y1="659.4" x2="326.8" y2="662.0" stroke="#111" stroke-width="1.2" stroke-linecap="butt"/>
<line x1="329.3" y1="659.4" x2="329.3" y2="662.0" stroke="#111" stroke-width="1.2" stroke-linecap="butt"/>
<line x1="331.4" y1="659.4" x2="331.4" y2="662.0" stroke="#111" stroke-width="1.2" stroke-linecap="butt"/>
<line x1="333.1" y1="659.4" x2="333.1" y2="662.0" stroke="#111" stroke-width="1.2" stroke-linecap="butt"/>
<line x1="334.7" y1="659.4" x2="334.7" y2="662.0" stroke="#111" stroke-width="1.2" stroke-linecap="butt"/>
<line x1="336.0" y1="659.4" x2="336.0" y2="662.0" stroke="#111" stroke-width="1.2" stroke-linecap="butt"/>
<line x1="337.2" y1="659.4" x2="337.2" y2="664.1" stroke="#111" stroke-width="1.2" stroke-linecap="butt"/>
<line x1="227.9" y1="659.4" x2="232.5" y2="659.4" stroke="#111" stroke-width="1.0" stroke-linecap="butt"/>
<line x1="229.9" y1="657.1" x2="232.5" y2="657.1" stroke="#111" stroke-width="1.0" stroke-linecap="butt"/>
<line x1="229.9" y1="654.8" x2="232.5" y2="654.8" stroke="#111" stroke-width="1.0" stroke-linecap="butt"/>
<line x1="229.9" y1="652.6" x2="232.5" y2="652.6" stroke="#111" stroke-width="1.0" stroke-linecap="butt"/>
<line x1="229.9" y1="650.3" x2="232.5" y2="650.3" stroke="#111" stroke-width="1.0" stroke-linecap="butt"/>
<line x1="229.1" y1="648.0" x2="232.5" y2="648.0" stroke="#111" stroke-width="1.0" stroke-linecap="butt"/>
<line x1="229.9" y1="645.7" x2="232.5" y2="645.7" stroke="#111" stroke-width="1.0" stroke-linecap="butt"/>
<line x1="229.9" y1="643.4" x2="232.5" y2="643.4" stroke="#111" stroke-width="1.0" stroke-linecap="butt"/>
<line x1="229.9" y1="641.2" x2="232.5" y2="641.2" stroke="#111" stroke-width="1.0" stroke-linecap="butt"/>
<line x1="229.9" y1="638.9" x2="232.5" y2="638.9" stroke="#111" stroke-width="1.0" stroke-linecap="butt"/>
<line x1="227.9" y1="636.6" x2="232.5" y2="636.6" stroke="#111" stroke-width="1.0" stroke-linecap="butt"/>
<line x1="229.9" y1="634.3" x2="232.5" y2="634.3" stroke="#111" stroke-width="1.0" stroke-linecap="butt"/>
<line x1="229.9" y1="632.0" x2="232.5" y2="632.0" stroke="#111" stroke-width="1.0" stroke-linecap="butt"/>
<line x1="229.9" y1="629.8" x2="232.5" y2="629.8" stroke="#111" stroke-width="1.0" stroke-linecap="butt"/>
<line x1="229.9" y1="627.5" x2="232.5" y2="627.5" stroke="#111" stroke-width="1.0" stroke-linecap="butt"/>
<line x1="229.1" y1="625.2" x2="232.5" y2="625.2" stroke="#111" stroke-width="1.0" stroke-linecap="butt"/>
<line x1="229.9" y1="622.9" x2="232.5" y2="622.9" stroke="#111" stroke-width="1.0" stroke-linecap="butt"/>
<line x1="229.9" y1="620.6" x2="232.5" y2="620.6" stroke="#111" stroke-width="1.0" stroke-linecap="butt"/>
<line x1="229.9" y1="618.4" x2="232.5" y2="618.4" stroke="#111" stroke-width="1.0" stroke-linecap="butt"/>
<line x1="229.9" y1="616.1" x2="232.5" y2="616.1" stroke="#111" stroke-width="1.0" stroke-linecap="butt"/>
<line x1="227.9" y1="613.8" x2="232.5" y2="613.8" stroke="#111" stroke-width="1.0" stroke-linecap="butt"/>
<line x1="229.9" y1="611.5" x2="232.5" y2="611.5" stroke="#111" stroke-width="1.0" stroke-linecap="butt"/>
<line x1="229.9" y1="609.2" x2="232.5" y2="609.2" stroke="#111" stroke-width="1.0" stroke-linecap="butt"/>
<line x1="229.9" y1="607.0" x2="232.5" y2="607.0" stroke="#111" stroke-width="1.0" stroke-linecap="butt"/>
<line x1="229.9" y1="604.7" x2="232.5" y2="604.7" stroke="#111" stroke-width="1.0" stroke-linecap="butt"/>
<line x1="229.1" y1="602.4" x2="232.5" y2="602.4" stroke="#111" stroke-width="1.0" stroke-linecap="butt"/>
<line x1="229.9" y1="600.1" x2="232.5" y2="600.1" stroke="#111" stroke-width="1.0" stroke-linecap="butt"/>
<line x1="229.9" y1="597.8" x2="232.5" y2="597.8" stroke="#111" stroke-width="1.0" stroke-linecap="butt"/>
<line x1="229.9" y1="595.6" x2="232.5" y2="595.6" stroke="#111" stroke-width="1.0" stroke-linecap="butt"/>
<line x1="229.9" y1="593.3" x2="232.5" y2="593.3" stroke="#111" stroke-width="1.0" stroke-linecap="butt"/>
<line x1="227.9" y1="591.0" x2="232.5" y2="591.0" stroke="#111" stroke-width="1.0" stroke-linecap="butt"/>
<text x="225.8" y="677.4" font-size="11" text-anchor="start" font-weight="bold" font-family='"Liberation Sans", "DejaVu Sans", sans-serif' fill="#111" textLength="8.6" lengthAdjust="spacingAndGlyphs" stroke="#111" stroke-width="0.45" stroke-linejoin="round" >10</text>
<text x="234.4" y="672.1" font-size="9.3" text-anchor="start" font-weight="bold" font-family='"Liberation Sans", "DejaVu Sans", sans-serif' fill="#111" textLength="4.9" lengthAdjust="spacingAndGlyphs" stroke="#111" stroke-width="0.4" stroke-linejoin="round" >0</text>
<text x="252.0" y="677.4" font-size="11" text-anchor="start" font-weight="bold" font-family='"Liberation Sans", "DejaVu Sans", sans-serif' fill="#111" textLength="8.6" lengthAdjust="spacingAndGlyphs" stroke="#111" stroke-width="0.45" stroke-linejoin="round" >10</text>
<text x="260.6" y="672.1" font-size="9.3" text-anchor="start" font-weight="bold" font-family='"Liberation Sans", "DejaVu Sans", sans-serif' fill="#111" textLength="4.9" lengthAdjust="spacingAndGlyphs" stroke="#111" stroke-width="0.4" stroke-linejoin="round" >1</text>
<text x="278.2" y="677.4" font-size="11" text-anchor="start" font-weight="bold" font-family='"Liberation Sans", "DejaVu Sans", sans-serif' fill="#111" textLength="8.6" lengthAdjust="spacingAndGlyphs" stroke="#111" stroke-width="0.45" stroke-linejoin="round" >10</text>
<text x="286.8" y="672.1" font-size="9.3" text-anchor="start" font-weight="bold" font-family='"Liberation Sans", "DejaVu Sans", sans-serif' fill="#111" textLength="4.9" lengthAdjust="spacingAndGlyphs" stroke="#111" stroke-width="0.4" stroke-linejoin="round" >2</text>
<text x="304.3" y="677.4" font-size="11" text-anchor="start" font-weight="bold" font-family='"Liberation Sans", "DejaVu Sans", sans-serif' fill="#111" textLength="8.6" lengthAdjust="spacingAndGlyphs" stroke="#111" stroke-width="0.45" stroke-linejoin="round" >10</text>
<text x="312.9" y="672.1" font-size="9.3" text-anchor="start" font-weight="bold" font-family='"Liberation Sans", "DejaVu Sans", sans-serif' fill="#111" textLength="4.9" lengthAdjust="spacingAndGlyphs" stroke="#111" stroke-width="0.4" stroke-linejoin="round" >3</text>
<text x="330.5" y="677.4" font-size="11" text-anchor="start" font-weight="bold" font-family='"Liberation Sans", "DejaVu Sans", sans-serif' fill="#111" textLength="8.6" lengthAdjust="spacingAndGlyphs" stroke="#111" stroke-width="0.45" stroke-linejoin="round" >10</text>
<text x="339.1" y="672.1" font-size="9.3" text-anchor="start" font-weight="bold" font-family='"Liberation Sans", "DejaVu Sans", sans-serif' fill="#111" textLength="4.9" lengthAdjust="spacingAndGlyphs" stroke="#111" stroke-width="0.4" stroke-linejoin="round" >4</text>
<text x="224.9" y="659.7" font-size="8.5" text-anchor="middle" font-weight="bold" font-family='"Liberation Sans", "DejaVu Sans", sans-serif' fill="#111" transform="rotate(-90 224.9 659.7)" stroke="#111" stroke-width="0.3" stroke-linejoin="round" >0</text>
<text x="224.9" y="593.0" font-size="8.5" text-anchor="middle" font-weight="bold" font-family='"Liberation Sans", "DejaVu Sans", sans-serif' fill="#111" transform="rotate(-90 224.9 593.0)" stroke="#111" stroke-width="0.3" stroke-linejoin="round" >30</text>
<path d="M233.0 659.4L233.0 657.9L233.9 657.9L233.9 658.4L235.0 658.4L235.0 658.2L235.9 658.2L235.9 658.4L237.0 658.4L237.0 658.6L237.9 658.6L237.9 658.8L239.4 658.8L239.4 659.0L240.9 659.0L240.9 658.7L242.0 658.7L242.0 658.4L242.9 658.4L242.9 658.5L244.4 658.5L244.4 657.8L245.9 657.8L245.9 657.8L247.0 657.8L247.0 657.3L247.9 657.3L247.9 657.7L249.2 657.7L249.2 657.0L250.7 657.0L250.7 657.0L252.2 657.0L252.2 656.7L253.7 656.7L253.7 656.5L254.8 656.5L254.8 656.1L256.1 656.1L256.1 653.6L257.4 653.6L257.4 653.1L258.3 653.1L258.3 651.0L259.4 651.0L259.4 650.3L260.7 650.3L260.7 647.1L262.0 647.1L262.0 643.9L263.5 643.9L263.5 641.6L264.6 641.6L264.6 637.4L265.9 637.4L265.9 635.3L266.8 635.3L266.8 633.9L267.7 633.9L267.7 629.9L268.8 629.9L268.8 628.0L270.3 628.0L270.3 620.9L271.6 620.9L271.6 619.1L273.1 619.1L273.1 613.5L274.0 613.5L274.0 607.8L275.5 607.8L275.5 605.3L276.8 605.3L276.8 603.7L278.3 603.7L278.3 598.1L279.8 598.1L279.8 599.0L280.7 599.0L280.7 600.8L281.6 600.8L281.6 609.5L282.7 609.5L282.7 616.2L283.8 616.2L283.8 623.1L285.3 623.1L285.3 624.3L286.8 624.3L286.8 629.1L288.1 629.1L288.1 628.2L289.4 628.2L289.4 632.8L290.9 632.8L290.9 634.4L291.8 634.4L291.8 636.4L292.9 636.4L292.9 638.2L294.4 638.2L294.4 641.0L295.5 641.0L295.5 643.7L296.4 643.7L296.4 647.0L297.7 647.0L297.7 650.2L299.0 650.2L299.0 652.6L300.5 652.6L300.5 655.0L301.6 655.0L301.6 656.5L302.9 656.5L302.9 657.2L304.0 657.2L304.0 658.6L305.5 658.6L305.5 658.9L306.6 658.9L306.6 659.1L308.0 659.1L308.0 659.4" fill="none" stroke="#7d7d7d" stroke-width="2.0" stroke-linejoin="miter"/>
<path d="M233.0 659.4L233.0 657.5L233.9 657.5L233.9 656.8L235.0 656.8L235.0 658.1L235.9 658.1L235.9 658.3L236.8 658.3L236.8 658.8L238.3 658.8L238.3 658.5L239.4 658.5L239.4 658.2L240.5 658.2L240.5 658.0L241.6 658.0L241.6 657.5L242.5 657.5L242.5 656.8L243.6 656.8L243.6 656.4L244.5 656.4L244.5 655.0L246.0 655.0L246.0 655.1L247.1 655.1L247.1 656.3L248.4 656.3L248.4 656.6L249.3 656.6L249.3 654.5L250.6 654.5L250.6 653.0L251.9 653.0L251.9 655.1L253.4 655.1L253.4 656.1L254.5 656.1L254.5 655.6L255.4 655.6L255.4 655.2L256.7 655.2L256.7 653.7L257.6 653.7L257.6 652.7L258.9 652.7L258.9 651.9L260.0 651.9L260.0 651.5L261.1 651.5L261.1 649.3L262.4 649.3L262.4 647.4L263.5 647.4L263.5 647.3L264.8 647.3L264.8 645.6L265.7 645.6L265.7 642.2L266.6 642.2L266.6 641.3L267.9 641.3L267.9 640.5L269.0 640.5L269.0 635.6L270.3 635.6L270.3 633.4L271.6 633.4L271.6 630.3L272.7 630.3L272.7 625.2L274.0 625.2L274.0 621.0L275.5 621.0L275.5 615.1L276.6 615.1L276.6 609.6L277.7 609.6L277.7 606.9L279.2 606.9L279.2 597.5L280.3 597.5L280.3 598.0L281.4 598.0L281.4 596.7L282.3 596.7L282.3 600.1L283.6 600.1L283.6 602.7L284.9 602.7L284.9 597.2L286.0 597.2L286.0 599.6L286.9 599.6L286.9 602.2L288.0 602.2L288.0 606.7L289.1 606.7L289.1 609.2L290.0 609.2L290.0 602.7L291.3 602.7L291.3 601.7L292.6 601.7L292.6 599.9L293.5 599.9L293.5 599.3L294.4 599.3L294.4 604.7L295.5 604.7L295.5 612.2L296.6 612.2L296.6 616.8L297.7 616.8L297.7 620.7L298.8 620.7L298.8 624.8L300.3 624.8L300.3 635.9L301.6 635.9L301.6 642.0L302.7 642.0L302.7 646.1L303.6 646.1L303.6 648.5L305.1 648.5L305.1 651.6L306.4 651.6L306.4 655.1L307.5 655.1L307.5 656.2L308.6 656.2L308.6 655.7L309.7 655.7L309.7 656.6L310.6 656.6L310.6 656.4L312.1 656.4L312.1 656.5L313.6 656.5L313.6 657.0L315.1 657.0L315.1 657.3L316.2 657.3L316.2 658.2L317.1 658.2L317.1 657.1L318.2 657.1L318.2 655.5L319.1 655.5L319.1 656.8L320.0 656.8L320.0 658.5L321.3 658.5L321.3 658.5L322.8 658.5L322.8 658.4L323.7 658.4L323.7 658.6L324.6 658.6L324.6 658.7L325.9 658.7L325.9 658.8L327.4 658.8L327.4 657.3L328.5 657.3L328.5 655.7L329.4 655.7L329.4 657.6L330.5 657.6L330.5 658.8L331.4 658.8L331.4 658.8L332.5 658.8L332.5 658.9L333.6 658.9L333.6 658.9L334.7 658.9L334.7 658.9L335.8 658.9L335.8 659.0L337.0 659.0L337.0 659.4" fill="none" stroke="#111" stroke-width="2.0" stroke-linejoin="miter"/>
<rect x="232.5" y="591.0" width="104.7" height="68.4" fill="none" stroke="#111" stroke-width="1.5"/>
<line x1="268.2" y1="643.8" x2="337.2" y2="643.8" stroke="#111" stroke-width="1.4" stroke-linecap="butt"/>
<line x1="268.2" y1="640.4" x2="268.2" y2="647.2" stroke="#111" stroke-width="1.5" stroke-linecap="butt"/>
<text x="282.5" y="694.0" font-size="15.3" text-anchor="middle" font-weight="bold" font-family='"Liberation Serif", "DejaVu Serif", serif' fill="#111" textLength="49.4" lengthAdjust="spacingAndGlyphs" stroke="#111" stroke-width="0.18" stroke-linejoin="round" >CXCR5</text>
<line x1="381.0" y1="625.0" x2="406.2" y2="625.0" stroke="#111" stroke-width="3.6" stroke-linecap="butt"/>
<line x1="381.0" y1="647.0" x2="406.2" y2="647.0" stroke="#7d7d7d" stroke-width="3.4" stroke-linecap="butt"/>
<text x="413.0" y="627.6" font-size="14.5" text-anchor="start" font-weight="bold" font-family='"Liberation Serif", "DejaVu Serif", serif' fill="#111" textLength="64.0" lengthAdjust="spacingAndGlyphs" stroke="#111" stroke-width="0.18" stroke-linejoin="round" >6h in CM</text>
<text x="413.0" y="649.6" font-size="14.5" text-anchor="start" font-weight="bold" font-family='"Liberation Serif", "DejaVu Serif", serif' fill="#111" textLength="63.0" lengthAdjust="spacingAndGlyphs" stroke="#111" stroke-width="0.18" stroke-linejoin="round" >6h in αIg</text>
<text x="115.6" y="796.4" font-size="14.7" text-anchor="middle" font-weight="bold" font-family='"Liberation Serif", "DejaVu Serif", serif' fill="#111" textLength="215.1" lengthAdjust="spacingAndGlyphs" stroke="#111" stroke-width="0.18" stroke-linejoin="round" >Chemokine receptor expression</text>
<text x="114.7" y="811.8" font-size="14.7" text-anchor="middle" font-weight="bold" font-family='"Liberation Serif", "DejaVu Serif", serif' fill="#111" textLength="93.2" lengthAdjust="spacingAndGlyphs" stroke="#111" stroke-width="0.18" stroke-linejoin="round" >(relative MFI)</text>
<text x="429.3" y="805.2" font-size="14.3" text-anchor="middle" font-weight="bold" font-family='"Liberation Serif", "DejaVu Serif", serif' fill="#111" textLength="117.1" lengthAdjust="spacingAndGlyphs" stroke="#111" stroke-width="0.18" stroke-linejoin="round" >B cell chemotaxis</text>
<text x="258.6" y="998.8" font-size="14.5" text-anchor="middle" font-weight="bold" font-family='"Liberation Serif", "DejaVu Serif", serif' fill="#111" textLength="87.0" lengthAdjust="spacingAndGlyphs" stroke="#111" stroke-width="0.18" stroke-linejoin="round" >% inhibition</text>
<line x1="135.4" y1="833.6" x2="135.4" y2="962.5" stroke="#111" stroke-width="1.6" stroke-linecap="butt"/>
<line x1="9.7" y1="962.5" x2="198.8" y2="962.5" stroke="#111" stroke-width="1.6" stroke-linecap="butt"/>
<line x1="10.5" y1="962.5" x2="10.5" y2="965.5" stroke="#111" stroke-width="1.5" stroke-linecap="butt"/>
<text x="10.5" y="977.7" font-size="12.5" text-anchor="middle" font-weight="bold" font-family='"Liberation Serif", "DejaVu Serif", serif' fill="#111" stroke="#111" stroke-width="0.35" stroke-linejoin="round" >100</text>
<line x1="41.8" y1="962.5" x2="41.8" y2="965.5" stroke="#111" stroke-width="1.5" stroke-linecap="butt"/>
<text x="41.8" y="977.7" font-size="12.5" text-anchor="middle" font-weight="bold" font-family='"Liberation Serif", "DejaVu Serif", serif' fill="#111" stroke="#111" stroke-width="0.35" stroke-linejoin="round" >75</text>
<line x1="73.0" y1="962.5" x2="73.0" y2="965.5" stroke="#111" stroke-width="1.5" stroke-linecap="butt"/>
<text x="73.0" y="977.7" font-size="12.5" text-anchor="middle" font-weight="bold" font-family='"Liberation Serif", "DejaVu Serif", serif' fill="#111" stroke="#111" stroke-width="0.35" stroke-linejoin="round" >50</text>
<line x1="104.2" y1="962.5" x2="104.2" y2="965.5" stroke="#111" stroke-width="1.5" stroke-linecap="butt"/>
<text x="104.2" y="977.7" font-size="12.5" text-anchor="middle" font-weight="bold" font-family='"Liberation Serif", "DejaVu Serif", serif' fill="#111" stroke="#111" stroke-width="0.35" stroke-linejoin="round" >25</text>
<line x1="135.4" y1="962.5" x2="135.4" y2="965.5" stroke="#111" stroke-width="1.5" stroke-linecap="butt"/>
<text x="135.4" y="977.7" font-size="12.5" text-anchor="middle" font-weight="bold" font-family='"Liberation Serif", "DejaVu Serif", serif' fill="#111" stroke="#111" stroke-width="0.35" stroke-linejoin="round" >0</text>
<line x1="166.6" y1="962.5" x2="166.6" y2="965.5" stroke="#111" stroke-width="1.5" stroke-linecap="butt"/>
<text x="166.6" y="977.7" font-size="12.5" text-anchor="middle" font-weight="bold" font-family='"Liberation Serif", "DejaVu Serif", serif' fill="#111" stroke="#111" stroke-width="0.35" stroke-linejoin="round" >-25</text>
<line x1="198.0" y1="962.5" x2="198.0" y2="965.5" stroke="#111" stroke-width="1.5" stroke-linecap="butt"/>
<text x="198.0" y="977.7" font-size="12.5" text-anchor="middle" font-weight="bold" font-family='"Liberation Serif", "DejaVu Serif", serif' fill="#111" stroke="#111" stroke-width="0.35" stroke-linejoin="round" >-50</text>
<line x1="135.4" y1="834.2" x2="138.2" y2="834.2" stroke="#111" stroke-width="1.2" stroke-linecap="butt"/>
<line x1="135.4" y1="866.0" x2="138.2" y2="866.0" stroke="#111" stroke-width="1.2" stroke-linecap="butt"/>
<line x1="135.4" y1="898.0" x2="138.2" y2="898.0" stroke="#111" stroke-width="1.2" stroke-linecap="butt"/>
<line x1="135.4" y1="929.6" x2="138.2" y2="929.6" stroke="#111" stroke-width="1.2" stroke-linecap="butt"/>
<rect x="93.0" y="844.0" width="42.4" height="14.2" fill="#fff" stroke="#111" stroke-width="1.7"/>
<line x1="93.0" y1="851.1" x2="84.6" y2="851.1" stroke="#111" stroke-width="1.6" stroke-linecap="butt"/>
<line x1="84.6" y1="847.1" x2="84.6" y2="855.1" stroke="#111" stroke-width="1.6" stroke-linecap="butt"/>
<rect x="135.4" y="875.8" width="44.0" height="13.2" fill="#fff" stroke="#111" stroke-width="1.7"/>
<line x1="179.4" y1="882.4" x2="186.2" y2="882.4" stroke="#111" stroke-width="1.6" stroke-linecap="butt"/>
<line x1="186.2" y1="878.4" x2="186.2" y2="886.4" stroke="#111" stroke-width="1.6" stroke-linecap="butt"/>
<rect x="70.2" y="907.5" width="65.2" height="13.8" fill="#fff" stroke="#111" stroke-width="1.7"/>
<line x1="70.2" y1="914.4" x2="54.5" y2="914.4" stroke="#111" stroke-width="1.6" stroke-linecap="butt"/>
<line x1="54.5" y1="910.4" x2="54.5" y2="918.4" stroke="#111" stroke-width="1.6" stroke-linecap="butt"/>
<rect x="113.2" y="939.5" width="22.2" height="14.1" fill="#fff" stroke="#111" stroke-width="1.7"/>
<line x1="113.2" y1="946.5" x2="107.0" y2="946.5" stroke="#111" stroke-width="1.6" stroke-linecap="butt"/>
<line x1="107.0" y1="942.5" x2="107.0" y2="950.5" stroke="#111" stroke-width="1.6" stroke-linecap="butt"/>
<line x1="383.5" y1="832.9" x2="383.5" y2="961.2" stroke="#111" stroke-width="1.6" stroke-linecap="butt"/>
<line x1="320.5" y1="961.2" x2="509.1" y2="961.2" stroke="#111" stroke-width="1.6" stroke-linecap="butt"/>
<line x1="321.3" y1="961.2" x2="321.3" y2="964.2" stroke="#111" stroke-width="1.5" stroke-linecap="butt"/>
<text x="321.3" y="975.8" font-size="12.5" text-anchor="middle" font-weight="bold" font-family='"Liberation Serif", "DejaVu Serif", serif' fill="#111" stroke="#111" stroke-width="0.35" stroke-linejoin="round" >-50</text>
<line x1="352.4" y1="961.2" x2="352.4" y2="964.2" stroke="#111" stroke-width="1.5" stroke-linecap="butt"/>
<text x="352.4" y="975.8" font-size="12.5" text-anchor="middle" font-weight="bold" font-family='"Liberation Serif", "DejaVu Serif", serif' fill="#111" stroke="#111" stroke-width="0.35" stroke-linejoin="round" >-25</text>
<line x1="383.5" y1="961.2" x2="383.5" y2="964.2" stroke="#111" stroke-width="1.5" stroke-linecap="butt"/>
<text x="383.5" y="975.8" font-size="12.5" text-anchor="middle" font-weight="bold" font-family='"Liberation Serif", "DejaVu Serif", serif' fill="#111" stroke="#111" stroke-width="0.35" stroke-linejoin="round" >0</text>
<line x1="414.7" y1="961.2" x2="414.7" y2="964.2" stroke="#111" stroke-width="1.5" stroke-linecap="butt"/>
<text x="414.7" y="975.8" font-size="12.5" text-anchor="middle" font-weight="bold" font-family='"Liberation Serif", "DejaVu Serif", serif' fill="#111" stroke="#111" stroke-width="0.35" stroke-linejoin="round" >25</text>
<line x1="446.0" y1="961.2" x2="446.0" y2="964.2" stroke="#111" stroke-width="1.5" stroke-linecap="butt"/>
<text x="446.0" y="975.8" font-size="12.5" text-anchor="middle" font-weight="bold" font-family='"Liberation Serif", "DejaVu Serif", serif' fill="#111" stroke="#111" stroke-width="0.35" stroke-linejoin="round" >50</text>
<line x1="477.0" y1="961.2" x2="477.0" y2="964.2" stroke="#111" stroke-width="1.5" stroke-linecap="butt"/>
<text x="477.0" y="975.8" font-size="12.5" text-anchor="middle" font-weight="bold" font-family='"Liberation Serif", "DejaVu Serif", serif' fill="#111" stroke="#111" stroke-width="0.35" stroke-linejoin="round" >75</text>
<line x1="508.3" y1="961.2" x2="508.3" y2="964.2" stroke="#111" stroke-width="1.5" stroke-linecap="butt"/>
<text x="508.3" y="975.8" font-size="12.5" text-anchor="middle" font-weight="bold" font-family='"Liberation Serif", "DejaVu Serif", serif' fill="#111" stroke="#111" stroke-width="0.35" stroke-linejoin="round" >100</text>
<line x1="383.5" y1="833.5" x2="386.3" y2="833.5" stroke="#111" stroke-width="1.2" stroke-linecap="butt"/>
<line x1="383.5" y1="865.0" x2="386.3" y2="865.0" stroke="#111" stroke-width="1.2" stroke-linecap="butt"/>
<line x1="383.5" y1="897.0" x2="386.3" y2="897.0" stroke="#111" stroke-width="1.2" stroke-linecap="butt"/>
<line x1="383.5" y1="928.5" x2="386.3" y2="928.5" stroke="#111" stroke-width="1.2" stroke-linecap="butt"/>
<rect x="383.5" y="843.0" width="105.7" height="14.0" fill="#fff" stroke="#111" stroke-width="1.7"/>
<line x1="489.2" y1="850.0" x2="494.2" y2="850.0" stroke="#111" stroke-width="1.6" stroke-linecap="butt"/>
<line x1="494.2" y1="846.0" x2="494.2" y2="854.0" stroke="#111" stroke-width="1.6" stroke-linecap="butt"/>
<rect x="347.7" y="875.0" width="35.8" height="13.5" fill="#fff" stroke="#111" stroke-width="1.7"/>
<line x1="347.7" y1="881.8" x2="330.4" y2="881.8" stroke="#111" stroke-width="1.6" stroke-linecap="butt"/>
<line x1="330.4" y1="877.8" x2="330.4" y2="885.8" stroke="#111" stroke-width="1.6" stroke-linecap="butt"/>
<rect x="383.5" y="906.5" width="87.3" height="13.9" fill="#fff" stroke="#111" stroke-width="1.7"/>
<line x1="470.8" y1="913.5" x2="482.7" y2="913.5" stroke="#111" stroke-width="1.6" stroke-linecap="butt"/>
<line x1="482.7" y1="909.5" x2="482.7" y2="917.5" stroke="#111" stroke-width="1.6" stroke-linecap="butt"/>
<rect x="383.5" y="938.5" width="100.0" height="14.2" fill="#fff" stroke="#111" stroke-width="1.7"/>
<line x1="483.5" y1="945.6" x2="492.2" y2="945.6" stroke="#111" stroke-width="1.6" stroke-linecap="butt"/>
<line x1="492.2" y1="941.6" x2="492.2" y2="949.6" stroke="#111" stroke-width="1.6" stroke-linecap="butt"/>
<text x="262.1" y="856.2" font-size="12.5" text-anchor="middle" font-weight="bold" font-family='"Liberation Serif", "DejaVu Serif", serif' fill="#111" textLength="88.9" lengthAdjust="spacingAndGlyphs" stroke="#111" stroke-width="0.35" stroke-linejoin="round" >CCR6 / MIP-3α</text>
<text x="261.2" y="886.9" font-size="12.5" text-anchor="middle" font-weight="bold" font-family='"Liberation Serif", "DejaVu Serif", serif' fill="#111" textLength="87.1" lengthAdjust="spacingAndGlyphs" stroke="#111" stroke-width="0.35" stroke-linejoin="round" >CCR7 / MIP-3β</text>
<text x="263.1" y="919.6" font-size="12.5" text-anchor="middle" font-weight="bold" font-family='"Liberation Serif", "DejaVu Serif", serif' fill="#111" textLength="98.6" lengthAdjust="spacingAndGlyphs" stroke="#111" stroke-width="0.35" stroke-linejoin="round" >CXCR4 / SDF-1α</text>
<text x="264.5" y="952.0" font-size="12.5" text-anchor="middle" font-weight="bold" font-family='"Liberation Serif", "DejaVu Serif", serif' fill="#111" textLength="91.2" lengthAdjust="spacingAndGlyphs" stroke="#111" stroke-width="0.35" stroke-linejoin="round" >CXCR5 / BCA-1</text>
</svg>
</body></html>
